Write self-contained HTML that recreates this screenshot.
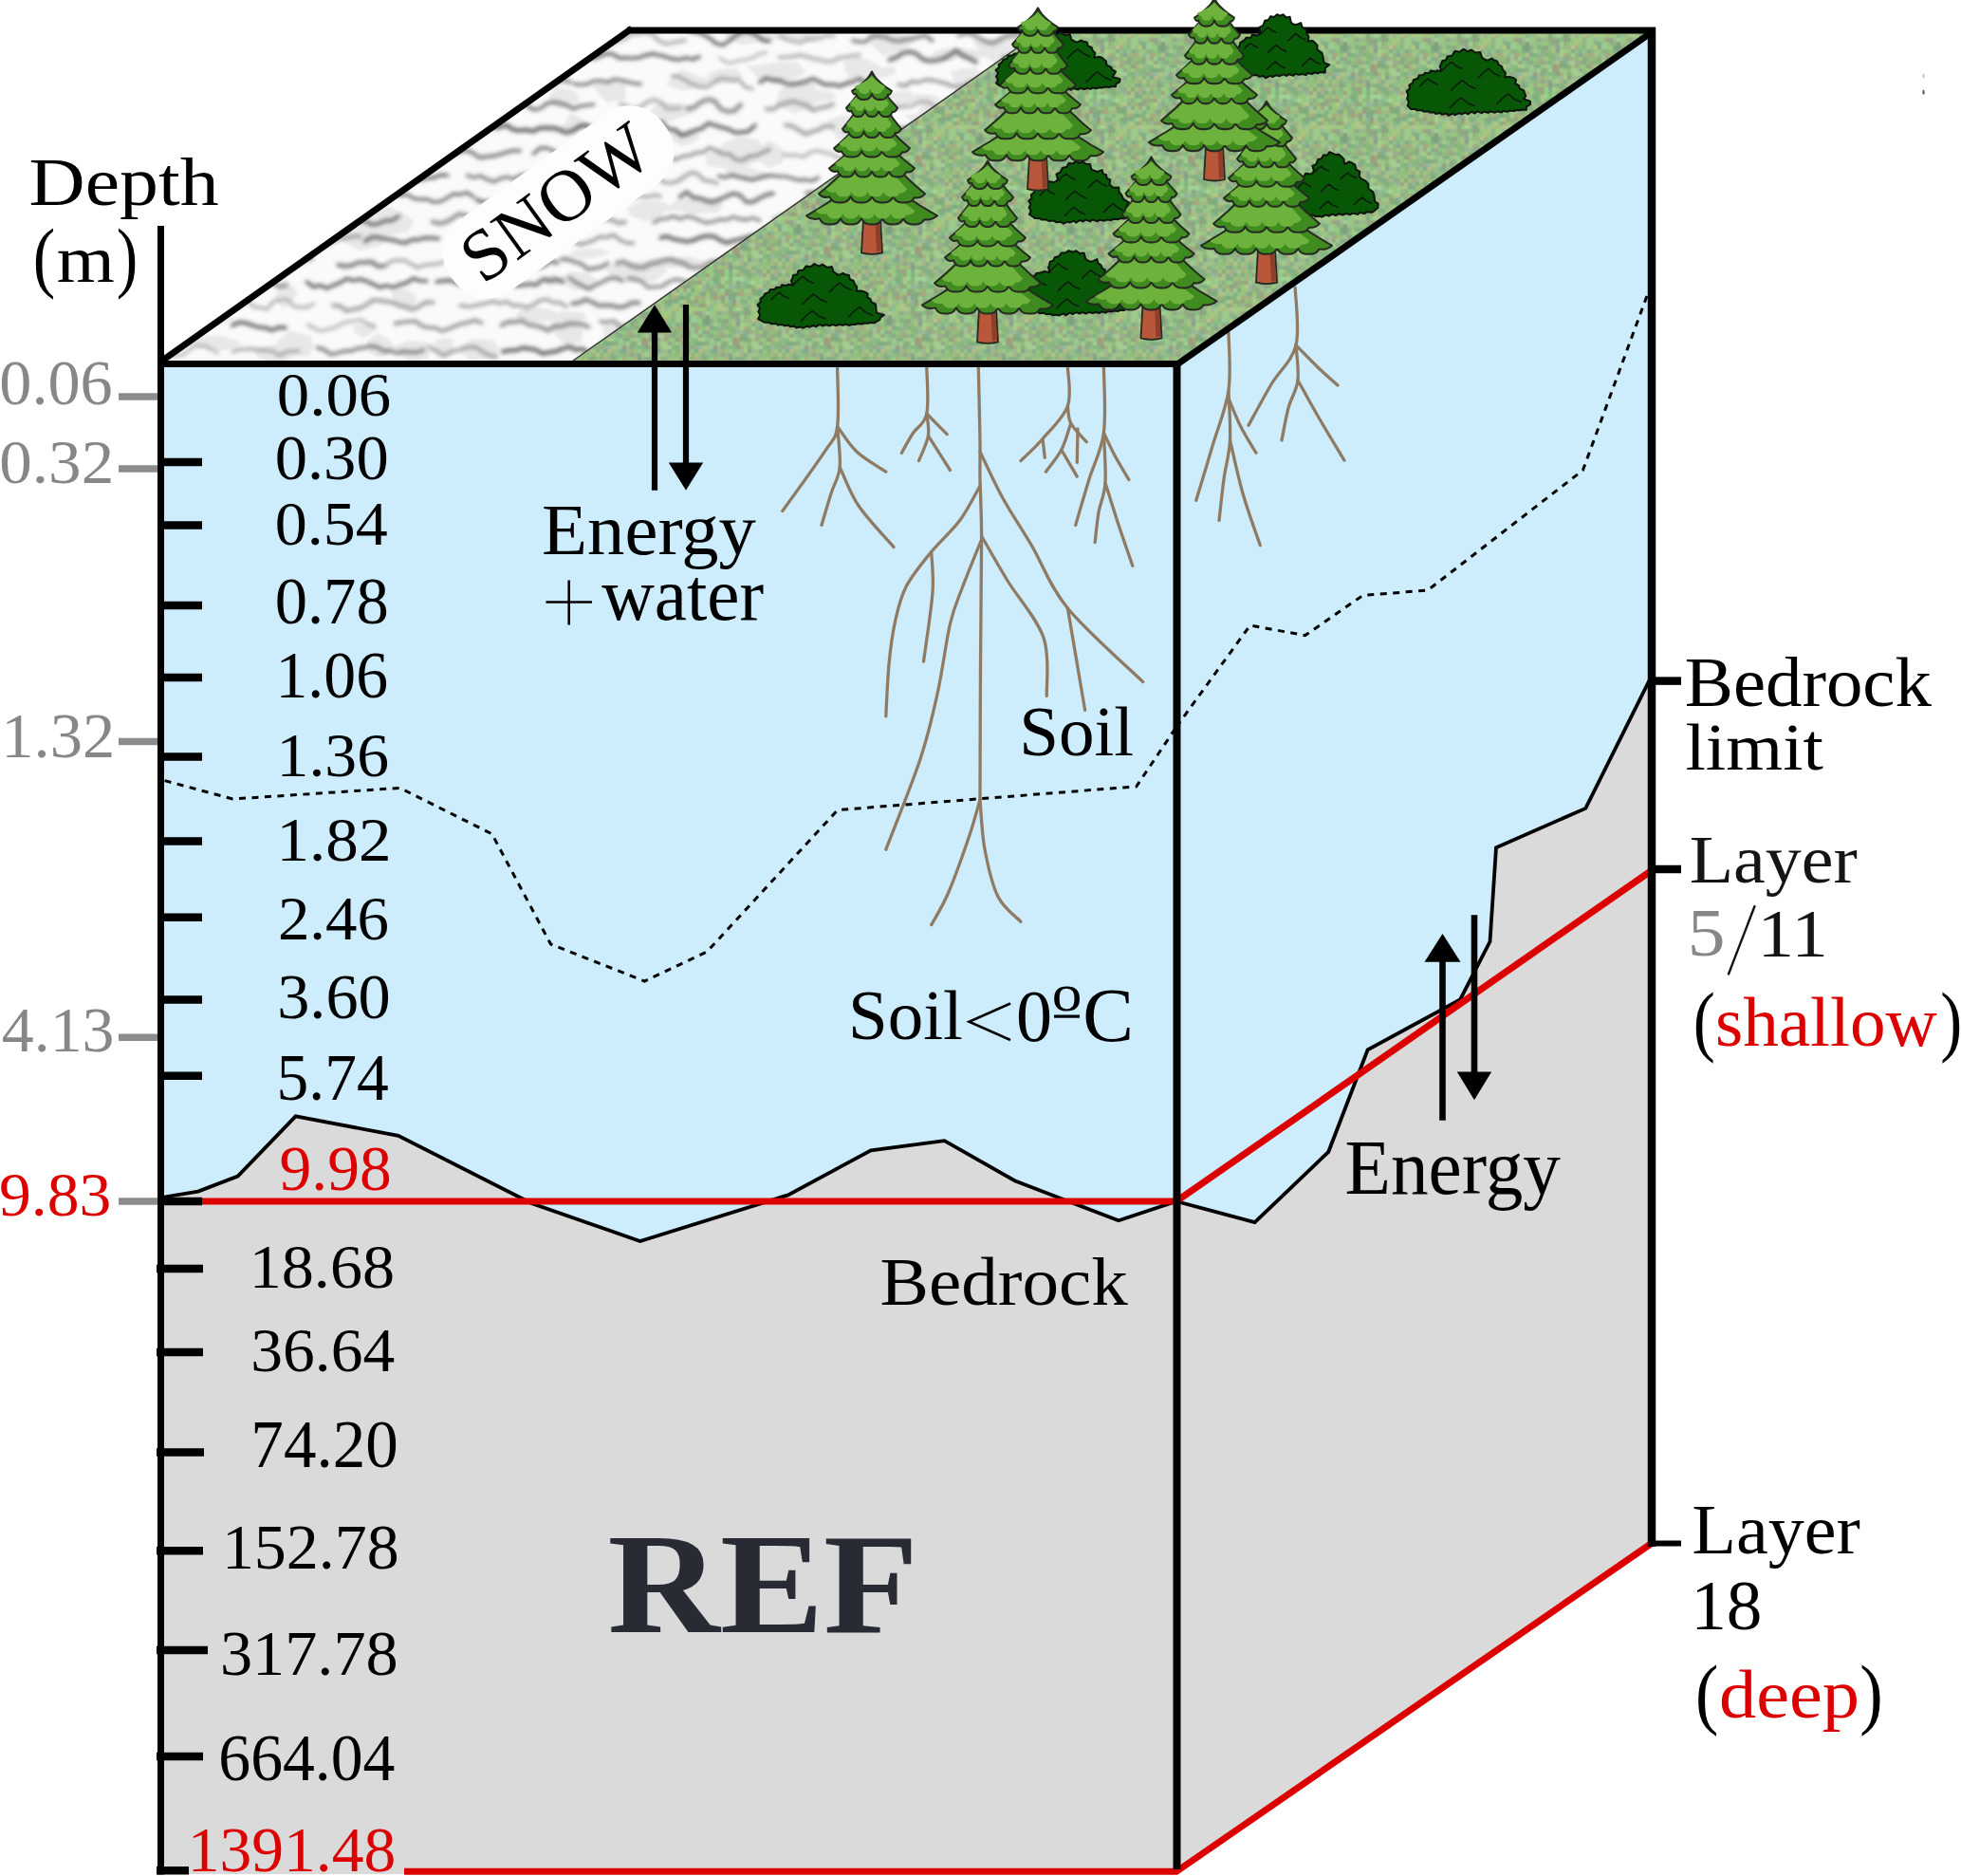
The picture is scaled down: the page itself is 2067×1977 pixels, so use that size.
<!DOCTYPE html>
<html><head><meta charset="utf-8"><style>html,body{margin:0;padding:0;background:#fff;overflow:hidden}svg{display:block}</style></head>
<body><svg width="2067" height="1977" viewBox="0 0 2067 1977" font-family="Liberation Serif">
<defs>
<pattern id="grass" patternUnits="userSpaceOnUse" width="96" height="96"><rect x="0" y="0" width="4" height="4" fill="rgb(125, 180, 124)"/><rect x="0" y="4" width="4" height="4" fill="rgb(131, 184, 118)"/><rect x="0" y="8" width="4" height="4" fill="rgb(141, 182, 127)"/><rect x="0" y="12" width="4" height="4" fill="rgb(155, 179, 149)"/><rect x="0" y="16" width="4" height="4" fill="rgb(141, 174, 120)"/><rect x="0" y="20" width="4" height="4" fill="rgb(131, 171, 131)"/><rect x="0" y="24" width="4" height="4" fill="rgb(131, 163, 139)"/><rect x="0" y="28" width="4" height="4" fill="rgb(146, 180, 151)"/><rect x="0" y="32" width="4" height="4" fill="rgb(140, 184, 131)"/><rect x="0" y="36" width="4" height="4" fill="rgb(124, 170, 124)"/><rect x="0" y="40" width="4" height="4" fill="rgb(154, 167, 131)"/><rect x="0" y="44" width="4" height="4" fill="rgb(135, 182, 134)"/><rect x="0" y="48" width="4" height="4" fill="rgb(159, 193, 125)"/><rect x="0" y="52" width="4" height="4" fill="rgb(137, 189, 132)"/><rect x="0" y="56" width="4" height="4" fill="rgb(135, 177, 125)"/><rect x="0" y="60" width="4" height="4" fill="rgb(144, 186, 122)"/><rect x="0" y="64" width="4" height="4" fill="rgb(125, 183, 136)"/><rect x="0" y="68" width="4" height="4" fill="rgb(146, 204, 136)"/><rect x="0" y="72" width="4" height="4" fill="rgb(166, 213, 152)"/><rect x="0" y="76" width="4" height="4" fill="rgb(130, 181, 132)"/><rect x="0" y="80" width="4" height="4" fill="rgb(157, 199, 147)"/><rect x="0" y="84" width="4" height="4" fill="rgb(130, 168, 130)"/><rect x="0" y="88" width="4" height="4" fill="rgb(127, 159, 132)"/><rect x="0" y="92" width="4" height="4" fill="rgb(126, 171, 138)"/><rect x="4" y="0" width="4" height="4" fill="rgb(150, 203, 130)"/><rect x="4" y="4" width="4" height="4" fill="rgb(162, 210, 150)"/><rect x="4" y="8" width="4" height="4" fill="rgb(170, 196, 145)"/><rect x="4" y="12" width="4" height="4" fill="rgb(150, 181, 155)"/><rect x="4" y="16" width="4" height="4" fill="rgb(143, 194, 136)"/><rect x="4" y="20" width="4" height="4" fill="rgb(128, 166, 122)"/><rect x="4" y="24" width="4" height="4" fill="rgb(133, 177, 124)"/><rect x="4" y="28" width="4" height="4" fill="rgb(123, 159, 133)"/><rect x="4" y="32" width="4" height="4" fill="rgb(153, 160, 127)"/><rect x="4" y="36" width="4" height="4" fill="rgb(148, 207, 137)"/><rect x="4" y="40" width="4" height="4" fill="rgb(158, 156, 134)"/><rect x="4" y="44" width="4" height="4" fill="rgb(149, 166, 130)"/><rect x="4" y="48" width="4" height="4" fill="rgb(154, 189, 145)"/><rect x="4" y="52" width="4" height="4" fill="rgb(180, 192, 137)"/><rect x="4" y="56" width="4" height="4" fill="rgb(134, 187, 122)"/><rect x="4" y="60" width="4" height="4" fill="rgb(138, 174, 120)"/><rect x="4" y="64" width="4" height="4" fill="rgb(148, 197, 137)"/><rect x="4" y="68" width="4" height="4" fill="rgb(148, 154, 124)"/><rect x="4" y="72" width="4" height="4" fill="rgb(160, 156, 126)"/><rect x="4" y="76" width="4" height="4" fill="rgb(132, 183, 126)"/><rect x="4" y="80" width="4" height="4" fill="rgb(143, 187, 132)"/><rect x="4" y="84" width="4" height="4" fill="rgb(177, 193, 135)"/><rect x="4" y="88" width="4" height="4" fill="rgb(138, 181, 132)"/><rect x="4" y="92" width="4" height="4" fill="rgb(160, 214, 138)"/><rect x="8" y="0" width="4" height="4" fill="rgb(146, 170, 134)"/><rect x="8" y="4" width="4" height="4" fill="rgb(155, 214, 147)"/><rect x="8" y="8" width="4" height="4" fill="rgb(118, 167, 134)"/><rect x="8" y="12" width="4" height="4" fill="rgb(126, 179, 130)"/><rect x="8" y="16" width="4" height="4" fill="rgb(151, 191, 132)"/><rect x="8" y="20" width="4" height="4" fill="rgb(154, 159, 130)"/><rect x="8" y="24" width="4" height="4" fill="rgb(162, 204, 154)"/><rect x="8" y="28" width="4" height="4" fill="rgb(179, 191, 131)"/><rect x="8" y="32" width="4" height="4" fill="rgb(167, 196, 124)"/><rect x="8" y="36" width="4" height="4" fill="rgb(166, 212, 149)"/><rect x="8" y="40" width="4" height="4" fill="rgb(123, 175, 126)"/><rect x="8" y="44" width="4" height="4" fill="rgb(145, 165, 140)"/><rect x="8" y="48" width="4" height="4" fill="rgb(145, 159, 145)"/><rect x="8" y="52" width="4" height="4" fill="rgb(127, 161, 121)"/><rect x="8" y="56" width="4" height="4" fill="rgb(148, 192, 147)"/><rect x="8" y="60" width="4" height="4" fill="rgb(152, 179, 154)"/><rect x="8" y="64" width="4" height="4" fill="rgb(180, 193, 136)"/><rect x="8" y="68" width="4" height="4" fill="rgb(164, 165, 124)"/><rect x="8" y="72" width="4" height="4" fill="rgb(162, 156, 133)"/><rect x="8" y="76" width="4" height="4" fill="rgb(127, 163, 122)"/><rect x="8" y="80" width="4" height="4" fill="rgb(144, 197, 142)"/><rect x="8" y="84" width="4" height="4" fill="rgb(159, 211, 144)"/><rect x="8" y="88" width="4" height="4" fill="rgb(130, 167, 136)"/><rect x="8" y="92" width="4" height="4" fill="rgb(168, 195, 128)"/><rect x="12" y="0" width="4" height="4" fill="rgb(165, 192, 119)"/><rect x="12" y="4" width="4" height="4" fill="rgb(166, 212, 154)"/><rect x="12" y="8" width="4" height="4" fill="rgb(158, 181, 146)"/><rect x="12" y="12" width="4" height="4" fill="rgb(151, 181, 139)"/><rect x="12" y="16" width="4" height="4" fill="rgb(160, 169, 125)"/><rect x="12" y="20" width="4" height="4" fill="rgb(175, 168, 121)"/><rect x="12" y="24" width="4" height="4" fill="rgb(137, 184, 138)"/><rect x="12" y="28" width="4" height="4" fill="rgb(129, 180, 123)"/><rect x="12" y="32" width="4" height="4" fill="rgb(153, 191, 134)"/><rect x="12" y="36" width="4" height="4" fill="rgb(168, 193, 145)"/><rect x="12" y="40" width="4" height="4" fill="rgb(137, 184, 129)"/><rect x="12" y="44" width="4" height="4" fill="rgb(163, 212, 154)"/><rect x="12" y="48" width="4" height="4" fill="rgb(150, 197, 132)"/><rect x="12" y="52" width="4" height="4" fill="rgb(171, 206, 144)"/><rect x="12" y="56" width="4" height="4" fill="rgb(172, 204, 134)"/><rect x="12" y="60" width="4" height="4" fill="rgb(156, 187, 144)"/><rect x="12" y="64" width="4" height="4" fill="rgb(123, 172, 120)"/><rect x="12" y="68" width="4" height="4" fill="rgb(139, 162, 134)"/><rect x="12" y="72" width="4" height="4" fill="rgb(166, 202, 146)"/><rect x="12" y="76" width="4" height="4" fill="rgb(174, 172, 123)"/><rect x="12" y="80" width="4" height="4" fill="rgb(157, 182, 149)"/><rect x="12" y="84" width="4" height="4" fill="rgb(173, 181, 132)"/><rect x="12" y="88" width="4" height="4" fill="rgb(134, 174, 134)"/><rect x="12" y="92" width="4" height="4" fill="rgb(123, 179, 123)"/><rect x="16" y="0" width="4" height="4" fill="rgb(135, 182, 123)"/><rect x="16" y="4" width="4" height="4" fill="rgb(152, 193, 151)"/><rect x="16" y="8" width="4" height="4" fill="rgb(137, 184, 132)"/><rect x="16" y="12" width="4" height="4" fill="rgb(130, 181, 125)"/><rect x="16" y="16" width="4" height="4" fill="rgb(149, 202, 130)"/><rect x="16" y="20" width="4" height="4" fill="rgb(150, 189, 146)"/><rect x="16" y="24" width="4" height="4" fill="rgb(151, 196, 135)"/><rect x="16" y="28" width="4" height="4" fill="rgb(136, 174, 122)"/><rect x="16" y="32" width="4" height="4" fill="rgb(144, 185, 142)"/><rect x="16" y="36" width="4" height="4" fill="rgb(118, 167, 120)"/><rect x="16" y="40" width="4" height="4" fill="rgb(155, 154, 126)"/><rect x="16" y="44" width="4" height="4" fill="rgb(142, 173, 127)"/><rect x="16" y="48" width="4" height="4" fill="rgb(148, 189, 129)"/><rect x="16" y="52" width="4" height="4" fill="rgb(160, 201, 129)"/><rect x="16" y="56" width="4" height="4" fill="rgb(168, 166, 125)"/><rect x="16" y="60" width="4" height="4" fill="rgb(139, 168, 146)"/><rect x="16" y="64" width="4" height="4" fill="rgb(139, 173, 146)"/><rect x="16" y="68" width="4" height="4" fill="rgb(121, 167, 129)"/><rect x="16" y="72" width="4" height="4" fill="rgb(152, 195, 126)"/><rect x="16" y="76" width="4" height="4" fill="rgb(160, 200, 142)"/><rect x="16" y="80" width="4" height="4" fill="rgb(175, 205, 134)"/><rect x="16" y="84" width="4" height="4" fill="rgb(129, 174, 130)"/><rect x="16" y="88" width="4" height="4" fill="rgb(144, 187, 132)"/><rect x="16" y="92" width="4" height="4" fill="rgb(127, 172, 135)"/><rect x="20" y="0" width="4" height="4" fill="rgb(122, 172, 123)"/><rect x="20" y="4" width="4" height="4" fill="rgb(136, 186, 122)"/><rect x="20" y="8" width="4" height="4" fill="rgb(146, 206, 142)"/><rect x="20" y="12" width="4" height="4" fill="rgb(125, 166, 127)"/><rect x="20" y="16" width="4" height="4" fill="rgb(158, 199, 131)"/><rect x="20" y="20" width="4" height="4" fill="rgb(166, 188, 126)"/><rect x="20" y="24" width="4" height="4" fill="rgb(131, 178, 130)"/><rect x="20" y="28" width="4" height="4" fill="rgb(153, 200, 137)"/><rect x="20" y="32" width="4" height="4" fill="rgb(160, 175, 132)"/><rect x="20" y="36" width="4" height="4" fill="rgb(143, 181, 133)"/><rect x="20" y="40" width="4" height="4" fill="rgb(122, 166, 134)"/><rect x="20" y="44" width="4" height="4" fill="rgb(146, 202, 128)"/><rect x="20" y="48" width="4" height="4" fill="rgb(172, 166, 132)"/><rect x="20" y="52" width="4" height="4" fill="rgb(153, 203, 133)"/><rect x="20" y="56" width="4" height="4" fill="rgb(144, 177, 129)"/><rect x="20" y="60" width="4" height="4" fill="rgb(136, 172, 132)"/><rect x="20" y="64" width="4" height="4" fill="rgb(159, 199, 154)"/><rect x="20" y="68" width="4" height="4" fill="rgb(129, 175, 122)"/><rect x="20" y="72" width="4" height="4" fill="rgb(151, 181, 132)"/><rect x="20" y="76" width="4" height="4" fill="rgb(128, 174, 121)"/><rect x="20" y="80" width="4" height="4" fill="rgb(127, 162, 130)"/><rect x="20" y="84" width="4" height="4" fill="rgb(169, 191, 138)"/><rect x="20" y="88" width="4" height="4" fill="rgb(176, 191, 145)"/><rect x="20" y="92" width="4" height="4" fill="rgb(144, 175, 133)"/><rect x="24" y="0" width="4" height="4" fill="rgb(143, 181, 119)"/><rect x="24" y="4" width="4" height="4" fill="rgb(159, 194, 125)"/><rect x="24" y="8" width="4" height="4" fill="rgb(169, 213, 150)"/><rect x="24" y="12" width="4" height="4" fill="rgb(143, 182, 118)"/><rect x="24" y="16" width="4" height="4" fill="rgb(154, 154, 122)"/><rect x="24" y="20" width="4" height="4" fill="rgb(129, 177, 127)"/><rect x="24" y="24" width="4" height="4" fill="rgb(159, 195, 141)"/><rect x="24" y="28" width="4" height="4" fill="rgb(155, 194, 133)"/><rect x="24" y="32" width="4" height="4" fill="rgb(168, 197, 132)"/><rect x="24" y="36" width="4" height="4" fill="rgb(182, 194, 137)"/><rect x="24" y="40" width="4" height="4" fill="rgb(154, 203, 118)"/><rect x="24" y="44" width="4" height="4" fill="rgb(166, 190, 134)"/><rect x="24" y="48" width="4" height="4" fill="rgb(176, 203, 137)"/><rect x="24" y="52" width="4" height="4" fill="rgb(132, 161, 134)"/><rect x="24" y="56" width="4" height="4" fill="rgb(171, 206, 149)"/><rect x="24" y="60" width="4" height="4" fill="rgb(176, 173, 123)"/><rect x="24" y="64" width="4" height="4" fill="rgb(166, 205, 153)"/><rect x="24" y="68" width="4" height="4" fill="rgb(180, 191, 136)"/><rect x="24" y="72" width="4" height="4" fill="rgb(159, 208, 138)"/><rect x="24" y="76" width="4" height="4" fill="rgb(156, 201, 129)"/><rect x="24" y="80" width="4" height="4" fill="rgb(152, 180, 152)"/><rect x="24" y="84" width="4" height="4" fill="rgb(154, 204, 138)"/><rect x="24" y="88" width="4" height="4" fill="rgb(134, 173, 126)"/><rect x="24" y="92" width="4" height="4" fill="rgb(163, 190, 130)"/><rect x="28" y="0" width="4" height="4" fill="rgb(144, 188, 155)"/><rect x="28" y="4" width="4" height="4" fill="rgb(153, 196, 121)"/><rect x="28" y="8" width="4" height="4" fill="rgb(153, 198, 133)"/><rect x="28" y="12" width="4" height="4" fill="rgb(165, 204, 128)"/><rect x="28" y="16" width="4" height="4" fill="rgb(141, 172, 130)"/><rect x="28" y="20" width="4" height="4" fill="rgb(128, 165, 120)"/><rect x="28" y="24" width="4" height="4" fill="rgb(157, 208, 130)"/><rect x="28" y="28" width="4" height="4" fill="rgb(125, 174, 119)"/><rect x="28" y="32" width="4" height="4" fill="rgb(139, 186, 140)"/><rect x="28" y="36" width="4" height="4" fill="rgb(152, 186, 151)"/><rect x="28" y="40" width="4" height="4" fill="rgb(160, 200, 125)"/><rect x="28" y="44" width="4" height="4" fill="rgb(167, 200, 121)"/><rect x="28" y="48" width="4" height="4" fill="rgb(165, 167, 126)"/><rect x="28" y="52" width="4" height="4" fill="rgb(150, 188, 139)"/><rect x="28" y="56" width="4" height="4" fill="rgb(135, 181, 127)"/><rect x="28" y="60" width="4" height="4" fill="rgb(141, 188, 127)"/><rect x="28" y="64" width="4" height="4" fill="rgb(170, 167, 130)"/><rect x="28" y="68" width="4" height="4" fill="rgb(141, 167, 136)"/><rect x="28" y="72" width="4" height="4" fill="rgb(157, 206, 139)"/><rect x="28" y="76" width="4" height="4" fill="rgb(171, 204, 150)"/><rect x="28" y="80" width="4" height="4" fill="rgb(162, 189, 133)"/><rect x="28" y="84" width="4" height="4" fill="rgb(163, 192, 134)"/><rect x="28" y="88" width="4" height="4" fill="rgb(141, 183, 133)"/><rect x="28" y="92" width="4" height="4" fill="rgb(142, 171, 144)"/><rect x="32" y="0" width="4" height="4" fill="rgb(151, 177, 146)"/><rect x="32" y="4" width="4" height="4" fill="rgb(157, 209, 141)"/><rect x="32" y="8" width="4" height="4" fill="rgb(146, 206, 142)"/><rect x="32" y="12" width="4" height="4" fill="rgb(182, 198, 134)"/><rect x="32" y="16" width="4" height="4" fill="rgb(134, 163, 146)"/><rect x="32" y="20" width="4" height="4" fill="rgb(119, 173, 120)"/><rect x="32" y="24" width="4" height="4" fill="rgb(136, 181, 129)"/><rect x="32" y="28" width="4" height="4" fill="rgb(131, 168, 134)"/><rect x="32" y="32" width="4" height="4" fill="rgb(124, 175, 131)"/><rect x="32" y="36" width="4" height="4" fill="rgb(158, 201, 140)"/><rect x="32" y="40" width="4" height="4" fill="rgb(168, 194, 130)"/><rect x="32" y="44" width="4" height="4" fill="rgb(159, 188, 118)"/><rect x="32" y="48" width="4" height="4" fill="rgb(144, 195, 133)"/><rect x="32" y="52" width="4" height="4" fill="rgb(128, 183, 139)"/><rect x="32" y="56" width="4" height="4" fill="rgb(137, 159, 143)"/><rect x="32" y="60" width="4" height="4" fill="rgb(164, 199, 138)"/><rect x="32" y="64" width="4" height="4" fill="rgb(145, 172, 132)"/><rect x="32" y="68" width="4" height="4" fill="rgb(159, 201, 129)"/><rect x="32" y="72" width="4" height="4" fill="rgb(145, 160, 140)"/><rect x="32" y="76" width="4" height="4" fill="rgb(168, 209, 150)"/><rect x="32" y="80" width="4" height="4" fill="rgb(130, 168, 146)"/><rect x="32" y="84" width="4" height="4" fill="rgb(134, 188, 123)"/><rect x="32" y="88" width="4" height="4" fill="rgb(158, 195, 132)"/><rect x="32" y="92" width="4" height="4" fill="rgb(138, 168, 133)"/><rect x="36" y="0" width="4" height="4" fill="rgb(163, 157, 125)"/><rect x="36" y="4" width="4" height="4" fill="rgb(181, 192, 135)"/><rect x="36" y="8" width="4" height="4" fill="rgb(143, 183, 142)"/><rect x="36" y="12" width="4" height="4" fill="rgb(152, 165, 119)"/><rect x="36" y="16" width="4" height="4" fill="rgb(156, 203, 150)"/><rect x="36" y="20" width="4" height="4" fill="rgb(178, 194, 133)"/><rect x="36" y="24" width="4" height="4" fill="rgb(170, 171, 125)"/><rect x="36" y="28" width="4" height="4" fill="rgb(132, 173, 119)"/><rect x="36" y="32" width="4" height="4" fill="rgb(164, 199, 128)"/><rect x="36" y="36" width="4" height="4" fill="rgb(173, 194, 131)"/><rect x="36" y="40" width="4" height="4" fill="rgb(136, 175, 128)"/><rect x="36" y="44" width="4" height="4" fill="rgb(145, 183, 154)"/><rect x="36" y="48" width="4" height="4" fill="rgb(130, 181, 125)"/><rect x="36" y="52" width="4" height="4" fill="rgb(159, 200, 137)"/><rect x="36" y="56" width="4" height="4" fill="rgb(149, 187, 135)"/><rect x="36" y="60" width="4" height="4" fill="rgb(136, 168, 136)"/><rect x="36" y="64" width="4" height="4" fill="rgb(142, 160, 142)"/><rect x="36" y="68" width="4" height="4" fill="rgb(158, 196, 127)"/><rect x="36" y="72" width="4" height="4" fill="rgb(158, 190, 128)"/><rect x="36" y="76" width="4" height="4" fill="rgb(129, 178, 124)"/><rect x="36" y="80" width="4" height="4" fill="rgb(162, 196, 127)"/><rect x="36" y="84" width="4" height="4" fill="rgb(146, 194, 133)"/><rect x="36" y="88" width="4" height="4" fill="rgb(143, 187, 129)"/><rect x="36" y="92" width="4" height="4" fill="rgb(165, 203, 122)"/><rect x="40" y="0" width="4" height="4" fill="rgb(173, 191, 140)"/><rect x="40" y="4" width="4" height="4" fill="rgb(159, 205, 148)"/><rect x="40" y="8" width="4" height="4" fill="rgb(135, 179, 125)"/><rect x="40" y="12" width="4" height="4" fill="rgb(141, 193, 130)"/><rect x="40" y="16" width="4" height="4" fill="rgb(143, 161, 131)"/><rect x="40" y="20" width="4" height="4" fill="rgb(178, 196, 144)"/><rect x="40" y="24" width="4" height="4" fill="rgb(130, 181, 119)"/><rect x="40" y="28" width="4" height="4" fill="rgb(133, 172, 145)"/><rect x="40" y="32" width="4" height="4" fill="rgb(169, 203, 145)"/><rect x="40" y="36" width="4" height="4" fill="rgb(173, 179, 127)"/><rect x="40" y="40" width="4" height="4" fill="rgb(158, 207, 147)"/><rect x="40" y="44" width="4" height="4" fill="rgb(160, 199, 126)"/><rect x="40" y="48" width="4" height="4" fill="rgb(163, 204, 152)"/><rect x="40" y="52" width="4" height="4" fill="rgb(135, 166, 137)"/><rect x="40" y="56" width="4" height="4" fill="rgb(169, 171, 130)"/><rect x="40" y="60" width="4" height="4" fill="rgb(140, 181, 124)"/><rect x="40" y="64" width="4" height="4" fill="rgb(151, 188, 128)"/><rect x="40" y="68" width="4" height="4" fill="rgb(130, 160, 121)"/><rect x="40" y="72" width="4" height="4" fill="rgb(159, 201, 140)"/><rect x="40" y="76" width="4" height="4" fill="rgb(122, 177, 130)"/><rect x="40" y="80" width="4" height="4" fill="rgb(129, 179, 123)"/><rect x="40" y="84" width="4" height="4" fill="rgb(139, 189, 122)"/><rect x="40" y="88" width="4" height="4" fill="rgb(176, 191, 134)"/><rect x="40" y="92" width="4" height="4" fill="rgb(127, 165, 119)"/><rect x="44" y="0" width="4" height="4" fill="rgb(131, 172, 124)"/><rect x="44" y="4" width="4" height="4" fill="rgb(138, 160, 136)"/><rect x="44" y="8" width="4" height="4" fill="rgb(154, 207, 137)"/><rect x="44" y="12" width="4" height="4" fill="rgb(169, 167, 126)"/><rect x="44" y="16" width="4" height="4" fill="rgb(159, 209, 128)"/><rect x="44" y="20" width="4" height="4" fill="rgb(145, 189, 146)"/><rect x="44" y="24" width="4" height="4" fill="rgb(118, 164, 130)"/><rect x="44" y="28" width="4" height="4" fill="rgb(163, 211, 147)"/><rect x="44" y="32" width="4" height="4" fill="rgb(125, 172, 119)"/><rect x="44" y="36" width="4" height="4" fill="rgb(163, 201, 131)"/><rect x="44" y="40" width="4" height="4" fill="rgb(155, 200, 138)"/><rect x="44" y="44" width="4" height="4" fill="rgb(167, 204, 138)"/><rect x="44" y="48" width="4" height="4" fill="rgb(147, 190, 145)"/><rect x="44" y="52" width="4" height="4" fill="rgb(140, 184, 131)"/><rect x="44" y="56" width="4" height="4" fill="rgb(164, 165, 121)"/><rect x="44" y="60" width="4" height="4" fill="rgb(139, 193, 127)"/><rect x="44" y="64" width="4" height="4" fill="rgb(159, 168, 123)"/><rect x="44" y="68" width="4" height="4" fill="rgb(171, 174, 125)"/><rect x="44" y="72" width="4" height="4" fill="rgb(140, 183, 128)"/><rect x="44" y="76" width="4" height="4" fill="rgb(157, 183, 151)"/><rect x="44" y="80" width="4" height="4" fill="rgb(161, 180, 130)"/><rect x="44" y="84" width="4" height="4" fill="rgb(156, 196, 131)"/><rect x="44" y="88" width="4" height="4" fill="rgb(123, 171, 124)"/><rect x="44" y="92" width="4" height="4" fill="rgb(173, 197, 132)"/><rect x="48" y="0" width="4" height="4" fill="rgb(158, 182, 154)"/><rect x="48" y="4" width="4" height="4" fill="rgb(124, 172, 130)"/><rect x="48" y="8" width="4" height="4" fill="rgb(161, 199, 139)"/><rect x="48" y="12" width="4" height="4" fill="rgb(126, 162, 130)"/><rect x="48" y="16" width="4" height="4" fill="rgb(162, 161, 131)"/><rect x="48" y="20" width="4" height="4" fill="rgb(159, 201, 130)"/><rect x="48" y="24" width="4" height="4" fill="rgb(127, 173, 134)"/><rect x="48" y="28" width="4" height="4" fill="rgb(173, 191, 131)"/><rect x="48" y="32" width="4" height="4" fill="rgb(163, 166, 125)"/><rect x="48" y="36" width="4" height="4" fill="rgb(182, 196, 146)"/><rect x="48" y="40" width="4" height="4" fill="rgb(145, 179, 146)"/><rect x="48" y="44" width="4" height="4" fill="rgb(134, 179, 125)"/><rect x="48" y="48" width="4" height="4" fill="rgb(184, 207, 132)"/><rect x="48" y="52" width="4" height="4" fill="rgb(148, 196, 136)"/><rect x="48" y="56" width="4" height="4" fill="rgb(171, 200, 139)"/><rect x="48" y="60" width="4" height="4" fill="rgb(147, 185, 125)"/><rect x="48" y="64" width="4" height="4" fill="rgb(131, 179, 121)"/><rect x="48" y="68" width="4" height="4" fill="rgb(177, 196, 138)"/><rect x="48" y="72" width="4" height="4" fill="rgb(139, 181, 122)"/><rect x="48" y="76" width="4" height="4" fill="rgb(129, 182, 127)"/><rect x="48" y="80" width="4" height="4" fill="rgb(168, 203, 124)"/><rect x="48" y="84" width="4" height="4" fill="rgb(156, 168, 125)"/><rect x="48" y="88" width="4" height="4" fill="rgb(132, 169, 129)"/><rect x="48" y="92" width="4" height="4" fill="rgb(172, 170, 128)"/><rect x="52" y="0" width="4" height="4" fill="rgb(126, 171, 123)"/><rect x="52" y="4" width="4" height="4" fill="rgb(155, 204, 119)"/><rect x="52" y="8" width="4" height="4" fill="rgb(127, 173, 134)"/><rect x="52" y="12" width="4" height="4" fill="rgb(151, 160, 130)"/><rect x="52" y="16" width="4" height="4" fill="rgb(166, 206, 150)"/><rect x="52" y="20" width="4" height="4" fill="rgb(125, 179, 133)"/><rect x="52" y="24" width="4" height="4" fill="rgb(142, 180, 122)"/><rect x="52" y="28" width="4" height="4" fill="rgb(149, 161, 134)"/><rect x="52" y="32" width="4" height="4" fill="rgb(161, 198, 118)"/><rect x="52" y="36" width="4" height="4" fill="rgb(156, 205, 142)"/><rect x="52" y="40" width="4" height="4" fill="rgb(165, 201, 134)"/><rect x="52" y="44" width="4" height="4" fill="rgb(122, 172, 138)"/><rect x="52" y="48" width="4" height="4" fill="rgb(131, 159, 131)"/><rect x="52" y="52" width="4" height="4" fill="rgb(155, 203, 129)"/><rect x="52" y="56" width="4" height="4" fill="rgb(146, 188, 138)"/><rect x="52" y="60" width="4" height="4" fill="rgb(157, 156, 124)"/><rect x="52" y="64" width="4" height="4" fill="rgb(136, 173, 127)"/><rect x="52" y="68" width="4" height="4" fill="rgb(151, 198, 140)"/><rect x="52" y="72" width="4" height="4" fill="rgb(130, 177, 125)"/><rect x="52" y="76" width="4" height="4" fill="rgb(150, 177, 143)"/><rect x="52" y="80" width="4" height="4" fill="rgb(127, 173, 134)"/><rect x="52" y="84" width="4" height="4" fill="rgb(170, 205, 143)"/><rect x="52" y="88" width="4" height="4" fill="rgb(145, 195, 126)"/><rect x="52" y="92" width="4" height="4" fill="rgb(147, 184, 147)"/><rect x="56" y="0" width="4" height="4" fill="rgb(147, 194, 132)"/><rect x="56" y="4" width="4" height="4" fill="rgb(173, 171, 136)"/><rect x="56" y="8" width="4" height="4" fill="rgb(164, 165, 123)"/><rect x="56" y="12" width="4" height="4" fill="rgb(144, 183, 134)"/><rect x="56" y="16" width="4" height="4" fill="rgb(117, 174, 118)"/><rect x="56" y="20" width="4" height="4" fill="rgb(155, 191, 144)"/><rect x="56" y="24" width="4" height="4" fill="rgb(169, 203, 145)"/><rect x="56" y="28" width="4" height="4" fill="rgb(136, 180, 118)"/><rect x="56" y="32" width="4" height="4" fill="rgb(138, 181, 118)"/><rect x="56" y="36" width="4" height="4" fill="rgb(165, 204, 126)"/><rect x="56" y="40" width="4" height="4" fill="rgb(158, 190, 134)"/><rect x="56" y="44" width="4" height="4" fill="rgb(149, 202, 133)"/><rect x="56" y="48" width="4" height="4" fill="rgb(161, 203, 148)"/><rect x="56" y="52" width="4" height="4" fill="rgb(142, 169, 137)"/><rect x="56" y="56" width="4" height="4" fill="rgb(157, 192, 158)"/><rect x="56" y="60" width="4" height="4" fill="rgb(155, 198, 151)"/><rect x="56" y="64" width="4" height="4" fill="rgb(162, 207, 144)"/><rect x="56" y="68" width="4" height="4" fill="rgb(144, 182, 146)"/><rect x="56" y="72" width="4" height="4" fill="rgb(144, 197, 129)"/><rect x="56" y="76" width="4" height="4" fill="rgb(153, 163, 122)"/><rect x="56" y="80" width="4" height="4" fill="rgb(155, 198, 139)"/><rect x="56" y="84" width="4" height="4" fill="rgb(161, 167, 121)"/><rect x="56" y="88" width="4" height="4" fill="rgb(139, 179, 119)"/><rect x="56" y="92" width="4" height="4" fill="rgb(167, 201, 145)"/><rect x="60" y="0" width="4" height="4" fill="rgb(136, 162, 131)"/><rect x="60" y="4" width="4" height="4" fill="rgb(146, 203, 141)"/><rect x="60" y="8" width="4" height="4" fill="rgb(132, 176, 123)"/><rect x="60" y="12" width="4" height="4" fill="rgb(162, 198, 131)"/><rect x="60" y="16" width="4" height="4" fill="rgb(152, 199, 126)"/><rect x="60" y="20" width="4" height="4" fill="rgb(153, 199, 128)"/><rect x="60" y="24" width="4" height="4" fill="rgb(164, 167, 127)"/><rect x="60" y="28" width="4" height="4" fill="rgb(148, 165, 118)"/><rect x="60" y="32" width="4" height="4" fill="rgb(158, 180, 153)"/><rect x="60" y="36" width="4" height="4" fill="rgb(169, 197, 133)"/><rect x="60" y="40" width="4" height="4" fill="rgb(157, 157, 131)"/><rect x="60" y="44" width="4" height="4" fill="rgb(160, 200, 135)"/><rect x="60" y="48" width="4" height="4" fill="rgb(144, 205, 141)"/><rect x="60" y="52" width="4" height="4" fill="rgb(143, 178, 132)"/><rect x="60" y="56" width="4" height="4" fill="rgb(159, 168, 126)"/><rect x="60" y="60" width="4" height="4" fill="rgb(153, 161, 124)"/><rect x="60" y="64" width="4" height="4" fill="rgb(162, 213, 143)"/><rect x="60" y="68" width="4" height="4" fill="rgb(130, 188, 120)"/><rect x="60" y="72" width="4" height="4" fill="rgb(126, 170, 121)"/><rect x="60" y="76" width="4" height="4" fill="rgb(154, 179, 155)"/><rect x="60" y="80" width="4" height="4" fill="rgb(116, 170, 124)"/><rect x="60" y="84" width="4" height="4" fill="rgb(160, 201, 134)"/><rect x="60" y="88" width="4" height="4" fill="rgb(172, 172, 134)"/><rect x="60" y="92" width="4" height="4" fill="rgb(161, 176, 130)"/><rect x="64" y="0" width="4" height="4" fill="rgb(139, 195, 135)"/><rect x="64" y="4" width="4" height="4" fill="rgb(174, 179, 128)"/><rect x="64" y="8" width="4" height="4" fill="rgb(155, 156, 128)"/><rect x="64" y="12" width="4" height="4" fill="rgb(175, 207, 137)"/><rect x="64" y="16" width="4" height="4" fill="rgb(161, 192, 122)"/><rect x="64" y="20" width="4" height="4" fill="rgb(140, 175, 141)"/><rect x="64" y="24" width="4" height="4" fill="rgb(167, 175, 126)"/><rect x="64" y="28" width="4" height="4" fill="rgb(155, 193, 121)"/><rect x="64" y="32" width="4" height="4" fill="rgb(142, 163, 134)"/><rect x="64" y="36" width="4" height="4" fill="rgb(161, 201, 126)"/><rect x="64" y="40" width="4" height="4" fill="rgb(133, 162, 138)"/><rect x="64" y="44" width="4" height="4" fill="rgb(142, 173, 131)"/><rect x="64" y="48" width="4" height="4" fill="rgb(156, 207, 133)"/><rect x="64" y="52" width="4" height="4" fill="rgb(144, 195, 125)"/><rect x="64" y="56" width="4" height="4" fill="rgb(168, 177, 120)"/><rect x="64" y="60" width="4" height="4" fill="rgb(162, 211, 151)"/><rect x="64" y="64" width="4" height="4" fill="rgb(137, 164, 133)"/><rect x="64" y="68" width="4" height="4" fill="rgb(181, 201, 139)"/><rect x="64" y="72" width="4" height="4" fill="rgb(119, 172, 125)"/><rect x="64" y="76" width="4" height="4" fill="rgb(147, 185, 155)"/><rect x="64" y="80" width="4" height="4" fill="rgb(182, 191, 144)"/><rect x="64" y="84" width="4" height="4" fill="rgb(140, 191, 125)"/><rect x="64" y="88" width="4" height="4" fill="rgb(157, 180, 143)"/><rect x="64" y="92" width="4" height="4" fill="rgb(158, 193, 124)"/><rect x="68" y="0" width="4" height="4" fill="rgb(146, 184, 139)"/><rect x="68" y="4" width="4" height="4" fill="rgb(141, 196, 141)"/><rect x="68" y="8" width="4" height="4" fill="rgb(155, 210, 136)"/><rect x="68" y="12" width="4" height="4" fill="rgb(156, 183, 147)"/><rect x="68" y="16" width="4" height="4" fill="rgb(158, 180, 153)"/><rect x="68" y="20" width="4" height="4" fill="rgb(117, 167, 126)"/><rect x="68" y="24" width="4" height="4" fill="rgb(154, 178, 142)"/><rect x="68" y="28" width="4" height="4" fill="rgb(141, 186, 128)"/><rect x="68" y="32" width="4" height="4" fill="rgb(156, 155, 125)"/><rect x="68" y="36" width="4" height="4" fill="rgb(164, 204, 125)"/><rect x="68" y="40" width="4" height="4" fill="rgb(156, 183, 147)"/><rect x="68" y="44" width="4" height="4" fill="rgb(162, 171, 135)"/><rect x="68" y="48" width="4" height="4" fill="rgb(123, 163, 129)"/><rect x="68" y="52" width="4" height="4" fill="rgb(129, 173, 127)"/><rect x="68" y="56" width="4" height="4" fill="rgb(139, 196, 136)"/><rect x="68" y="60" width="4" height="4" fill="rgb(138, 171, 138)"/><rect x="68" y="64" width="4" height="4" fill="rgb(147, 192, 142)"/><rect x="68" y="68" width="4" height="4" fill="rgb(163, 209, 145)"/><rect x="68" y="72" width="4" height="4" fill="rgb(125, 169, 133)"/><rect x="68" y="76" width="4" height="4" fill="rgb(181, 193, 142)"/><rect x="68" y="80" width="4" height="4" fill="rgb(169, 177, 121)"/><rect x="68" y="84" width="4" height="4" fill="rgb(138, 177, 133)"/><rect x="68" y="88" width="4" height="4" fill="rgb(121, 168, 129)"/><rect x="68" y="92" width="4" height="4" fill="rgb(137, 181, 120)"/><rect x="72" y="0" width="4" height="4" fill="rgb(152, 159, 123)"/><rect x="72" y="4" width="4" height="4" fill="rgb(179, 195, 137)"/><rect x="72" y="8" width="4" height="4" fill="rgb(147, 179, 151)"/><rect x="72" y="12" width="4" height="4" fill="rgb(145, 165, 146)"/><rect x="72" y="16" width="4" height="4" fill="rgb(142, 176, 120)"/><rect x="72" y="20" width="4" height="4" fill="rgb(165, 195, 122)"/><rect x="72" y="24" width="4" height="4" fill="rgb(183, 192, 146)"/><rect x="72" y="28" width="4" height="4" fill="rgb(172, 206, 138)"/><rect x="72" y="32" width="4" height="4" fill="rgb(173, 191, 136)"/><rect x="72" y="36" width="4" height="4" fill="rgb(135, 183, 132)"/><rect x="72" y="40" width="4" height="4" fill="rgb(179, 204, 144)"/><rect x="72" y="44" width="4" height="4" fill="rgb(118, 164, 129)"/><rect x="72" y="48" width="4" height="4" fill="rgb(116, 159, 119)"/><rect x="72" y="52" width="4" height="4" fill="rgb(126, 162, 134)"/><rect x="72" y="56" width="4" height="4" fill="rgb(183, 195, 132)"/><rect x="72" y="60" width="4" height="4" fill="rgb(143, 163, 140)"/><rect x="72" y="64" width="4" height="4" fill="rgb(139, 183, 132)"/><rect x="72" y="68" width="4" height="4" fill="rgb(141, 190, 138)"/><rect x="72" y="72" width="4" height="4" fill="rgb(134, 176, 124)"/><rect x="72" y="76" width="4" height="4" fill="rgb(161, 199, 133)"/><rect x="72" y="80" width="4" height="4" fill="rgb(152, 193, 150)"/><rect x="72" y="84" width="4" height="4" fill="rgb(146, 187, 140)"/><rect x="72" y="88" width="4" height="4" fill="rgb(138, 179, 127)"/><rect x="72" y="92" width="4" height="4" fill="rgb(164, 202, 140)"/><rect x="76" y="0" width="4" height="4" fill="rgb(156, 206, 127)"/><rect x="76" y="4" width="4" height="4" fill="rgb(151, 180, 142)"/><rect x="76" y="8" width="4" height="4" fill="rgb(150, 209, 127)"/><rect x="76" y="12" width="4" height="4" fill="rgb(147, 185, 127)"/><rect x="76" y="16" width="4" height="4" fill="rgb(131, 173, 135)"/><rect x="76" y="20" width="4" height="4" fill="rgb(133, 174, 130)"/><rect x="76" y="24" width="4" height="4" fill="rgb(128, 184, 121)"/><rect x="76" y="28" width="4" height="4" fill="rgb(160, 197, 123)"/><rect x="76" y="32" width="4" height="4" fill="rgb(143, 187, 142)"/><rect x="76" y="36" width="4" height="4" fill="rgb(143, 192, 158)"/><rect x="76" y="40" width="4" height="4" fill="rgb(147, 207, 138)"/><rect x="76" y="44" width="4" height="4" fill="rgb(170, 191, 143)"/><rect x="76" y="48" width="4" height="4" fill="rgb(152, 167, 131)"/><rect x="76" y="52" width="4" height="4" fill="rgb(138, 183, 140)"/><rect x="76" y="56" width="4" height="4" fill="rgb(134, 159, 143)"/><rect x="76" y="60" width="4" height="4" fill="rgb(144, 197, 128)"/><rect x="76" y="64" width="4" height="4" fill="rgb(133, 163, 145)"/><rect x="76" y="68" width="4" height="4" fill="rgb(152, 201, 140)"/><rect x="76" y="72" width="4" height="4" fill="rgb(160, 199, 149)"/><rect x="76" y="76" width="4" height="4" fill="rgb(159, 200, 147)"/><rect x="76" y="80" width="4" height="4" fill="rgb(131, 173, 126)"/><rect x="76" y="84" width="4" height="4" fill="rgb(145, 194, 127)"/><rect x="76" y="88" width="4" height="4" fill="rgb(146, 206, 135)"/><rect x="76" y="92" width="4" height="4" fill="rgb(157, 203, 119)"/><rect x="80" y="0" width="4" height="4" fill="rgb(132, 182, 138)"/><rect x="80" y="4" width="4" height="4" fill="rgb(121, 163, 121)"/><rect x="80" y="8" width="4" height="4" fill="rgb(126, 181, 138)"/><rect x="80" y="12" width="4" height="4" fill="rgb(156, 185, 152)"/><rect x="80" y="16" width="4" height="4" fill="rgb(160, 189, 128)"/><rect x="80" y="20" width="4" height="4" fill="rgb(148, 156, 127)"/><rect x="80" y="24" width="4" height="4" fill="rgb(161, 159, 130)"/><rect x="80" y="28" width="4" height="4" fill="rgb(154, 184, 156)"/><rect x="80" y="32" width="4" height="4" fill="rgb(152, 198, 126)"/><rect x="80" y="36" width="4" height="4" fill="rgb(165, 193, 119)"/><rect x="80" y="40" width="4" height="4" fill="rgb(156, 192, 126)"/><rect x="80" y="44" width="4" height="4" fill="rgb(150, 192, 127)"/><rect x="80" y="48" width="4" height="4" fill="rgb(150, 193, 131)"/><rect x="80" y="52" width="4" height="4" fill="rgb(162, 207, 139)"/><rect x="80" y="56" width="4" height="4" fill="rgb(128, 173, 124)"/><rect x="80" y="60" width="4" height="4" fill="rgb(152, 200, 132)"/><rect x="80" y="64" width="4" height="4" fill="rgb(137, 192, 127)"/><rect x="80" y="68" width="4" height="4" fill="rgb(142, 175, 138)"/><rect x="80" y="72" width="4" height="4" fill="rgb(145, 196, 141)"/><rect x="80" y="76" width="4" height="4" fill="rgb(154, 158, 124)"/><rect x="80" y="80" width="4" height="4" fill="rgb(132, 164, 139)"/><rect x="80" y="84" width="4" height="4" fill="rgb(132, 180, 139)"/><rect x="80" y="88" width="4" height="4" fill="rgb(167, 166, 135)"/><rect x="80" y="92" width="4" height="4" fill="rgb(124, 179, 137)"/><rect x="84" y="0" width="4" height="4" fill="rgb(132, 183, 117)"/><rect x="84" y="4" width="4" height="4" fill="rgb(129, 184, 123)"/><rect x="84" y="8" width="4" height="4" fill="rgb(129, 179, 132)"/><rect x="84" y="12" width="4" height="4" fill="rgb(154, 160, 126)"/><rect x="84" y="16" width="4" height="4" fill="rgb(145, 191, 146)"/><rect x="84" y="20" width="4" height="4" fill="rgb(153, 198, 124)"/><rect x="84" y="24" width="4" height="4" fill="rgb(172, 167, 120)"/><rect x="84" y="28" width="4" height="4" fill="rgb(145, 205, 140)"/><rect x="84" y="32" width="4" height="4" fill="rgb(170, 203, 134)"/><rect x="84" y="36" width="4" height="4" fill="rgb(157, 206, 148)"/><rect x="84" y="40" width="4" height="4" fill="rgb(155, 154, 134)"/><rect x="84" y="44" width="4" height="4" fill="rgb(147, 191, 147)"/><rect x="84" y="48" width="4" height="4" fill="rgb(128, 175, 128)"/><rect x="84" y="52" width="4" height="4" fill="rgb(152, 205, 127)"/><rect x="84" y="56" width="4" height="4" fill="rgb(135, 182, 133)"/><rect x="84" y="60" width="4" height="4" fill="rgb(150, 182, 128)"/><rect x="84" y="64" width="4" height="4" fill="rgb(170, 165, 126)"/><rect x="84" y="68" width="4" height="4" fill="rgb(125, 173, 121)"/><rect x="84" y="72" width="4" height="4" fill="rgb(178, 202, 139)"/><rect x="84" y="76" width="4" height="4" fill="rgb(145, 188, 157)"/><rect x="84" y="80" width="4" height="4" fill="rgb(147, 191, 149)"/><rect x="84" y="84" width="4" height="4" fill="rgb(160, 179, 126)"/><rect x="84" y="88" width="4" height="4" fill="rgb(149, 201, 128)"/><rect x="84" y="92" width="4" height="4" fill="rgb(159, 156, 132)"/><rect x="88" y="0" width="4" height="4" fill="rgb(140, 173, 119)"/><rect x="88" y="4" width="4" height="4" fill="rgb(178, 201, 138)"/><rect x="88" y="8" width="4" height="4" fill="rgb(171, 202, 135)"/><rect x="88" y="12" width="4" height="4" fill="rgb(128, 169, 128)"/><rect x="88" y="16" width="4" height="4" fill="rgb(169, 202, 152)"/><rect x="88" y="20" width="4" height="4" fill="rgb(168, 178, 133)"/><rect x="88" y="24" width="4" height="4" fill="rgb(134, 159, 138)"/><rect x="88" y="28" width="4" height="4" fill="rgb(157, 162, 123)"/><rect x="88" y="32" width="4" height="4" fill="rgb(167, 191, 128)"/><rect x="88" y="36" width="4" height="4" fill="rgb(183, 194, 135)"/><rect x="88" y="40" width="4" height="4" fill="rgb(136, 187, 140)"/><rect x="88" y="44" width="4" height="4" fill="rgb(155, 196, 124)"/><rect x="88" y="48" width="4" height="4" fill="rgb(134, 176, 130)"/><rect x="88" y="52" width="4" height="4" fill="rgb(133, 171, 139)"/><rect x="88" y="56" width="4" height="4" fill="rgb(147, 178, 151)"/><rect x="88" y="60" width="4" height="4" fill="rgb(160, 179, 136)"/><rect x="88" y="64" width="4" height="4" fill="rgb(137, 172, 137)"/><rect x="88" y="68" width="4" height="4" fill="rgb(160, 203, 131)"/><rect x="88" y="72" width="4" height="4" fill="rgb(134, 169, 136)"/><rect x="88" y="76" width="4" height="4" fill="rgb(138, 164, 134)"/><rect x="88" y="80" width="4" height="4" fill="rgb(176, 172, 125)"/><rect x="88" y="84" width="4" height="4" fill="rgb(132, 161, 145)"/><rect x="88" y="88" width="4" height="4" fill="rgb(157, 194, 122)"/><rect x="88" y="92" width="4" height="4" fill="rgb(154, 161, 124)"/><rect x="92" y="0" width="4" height="4" fill="rgb(146, 210, 139)"/><rect x="92" y="4" width="4" height="4" fill="rgb(156, 214, 149)"/><rect x="92" y="8" width="4" height="4" fill="rgb(130, 183, 125)"/><rect x="92" y="12" width="4" height="4" fill="rgb(157, 209, 130)"/><rect x="92" y="16" width="4" height="4" fill="rgb(124, 166, 123)"/><rect x="92" y="20" width="4" height="4" fill="rgb(159, 153, 123)"/><rect x="92" y="24" width="4" height="4" fill="rgb(166, 198, 149)"/><rect x="92" y="28" width="4" height="4" fill="rgb(149, 197, 127)"/><rect x="92" y="32" width="4" height="4" fill="rgb(139, 180, 127)"/><rect x="92" y="36" width="4" height="4" fill="rgb(167, 199, 147)"/><rect x="92" y="40" width="4" height="4" fill="rgb(143, 187, 133)"/><rect x="92" y="44" width="4" height="4" fill="rgb(160, 198, 126)"/><rect x="92" y="48" width="4" height="4" fill="rgb(132, 166, 135)"/><rect x="92" y="52" width="4" height="4" fill="rgb(163, 174, 128)"/><rect x="92" y="56" width="4" height="4" fill="rgb(135, 181, 128)"/><rect x="92" y="60" width="4" height="4" fill="rgb(161, 206, 138)"/><rect x="92" y="64" width="4" height="4" fill="rgb(162, 168, 125)"/><rect x="92" y="68" width="4" height="4" fill="rgb(169, 201, 149)"/><rect x="92" y="72" width="4" height="4" fill="rgb(133, 174, 125)"/><rect x="92" y="76" width="4" height="4" fill="rgb(142, 188, 133)"/><rect x="92" y="80" width="4" height="4" fill="rgb(155, 191, 121)"/><rect x="92" y="84" width="4" height="4" fill="rgb(146, 184, 149)"/><rect x="92" y="88" width="4" height="4" fill="rgb(174, 177, 125)"/><rect x="92" y="92" width="4" height="4" fill="rgb(156, 207, 142)"/></pattern>
<clipPath id="snowclip"><polygon points="170,380 664,31 1100,31 600,383"/></clipPath>
<filter id="gblur" x="0" y="0" width="100%" height="100%"><feGaussianBlur stdDeviation="0.8"/></filter>
<filter id="sblur2" x="-20%" y="-20%" width="140%" height="140%"><feGaussianBlur stdDeviation="1.5"/></filter>
<filter id="sblur" x="-5%" y="-50%" width="110%" height="200%"><feGaussianBlur stdDeviation="2.2"/></filter>
<symbol id="tree" overflow="visible">
<path d="M-8.5,145 L8.5,145 L11,189 Q0,192 -11,189Z" fill="#b9573b" stroke="#262a22" stroke-width="1.8"/>
<path d="M3,147 L8,147 L10,187 L5,188Z" fill="#8e3f2a"/>
<path d="M0,100.1 Q31.1,129.2 69.0,150.0 Q63.5,155.0 55.2,154.0 Q51.9,160.0 44.2,159.0 Q36.4,160.0 33.1,153.0 Q29.8,160.0 22.1,159.0 Q14.4,160.0 11.0,153.0 Q7.7,160.0 -0.0,159.0 Q-7.7,160.0 -11.0,153.0 Q-14.4,160.0 -22.1,159.0 Q-29.8,160.0 -33.1,153.0 Q-36.4,160.0 -44.2,159.0 Q-51.9,160.0 -55.2,153.0 Q-63.5,155.0 -69.0,150.0 Q-31.1,129.2 0,100.1Z" fill="#3f8b1f" stroke="#262a22" stroke-width="2" stroke-linejoin="round"/>
<path d="M0,103.1 Q20.5,127.8 45.5,145.0 Q41.9,150.0 36.4,149.0 Q33.9,154.0 28.0,153.0 Q22.2,154.0 19.7,148.0 Q17.1,154.0 11.3,153.0 Q5.4,154.0 2.9,148.0 Q0.4,154.0 -5.5,153.0 Q-11.4,154.0 -13.9,148.0 Q-16.4,154.0 -22.3,153.0 Q-28.2,154.0 -30.7,148.0 Q-33.2,154.0 -39.1,153.0 Q-45.0,154.0 -47.5,148.0 Q-54.6,150.0 -59.3,145.0 Q-26.7,127.8 0,103.1Z" fill="#6cb23d"/>
<path d="M0,67.9 Q25.2,102.1 56.0,127.0 Q51.5,132.0 44.8,131.0 Q41.4,137.0 33.6,136.0 Q25.8,137.0 22.4,130.0 Q19.0,137.0 11.2,136.0 Q3.4,137.0 0.0,130.0 Q-3.4,137.0 -11.2,136.0 Q-19.0,137.0 -22.4,130.0 Q-25.8,137.0 -33.6,136.0 Q-41.4,137.0 -44.8,130.0 Q-51.5,132.0 -56.0,127.0 Q-25.2,102.1 0,67.9Z" fill="#3f8b1f" stroke="#262a22" stroke-width="2" stroke-linejoin="round"/>
<path d="M0,70.9 Q16.6,100.7 37.0,122.0 Q34.0,127.0 29.6,126.0 Q27.0,131.0 21.1,130.0 Q15.1,131.0 12.5,125.0 Q10.0,131.0 4.0,130.0 Q-1.9,131.0 -4.5,125.0 Q-7.0,131.0 -13.0,130.0 Q-19.0,131.0 -21.5,125.0 Q-24.1,131.0 -30.0,130.0 Q-36.0,131.0 -38.5,125.0 Q-44.3,127.0 -48.2,122.0 Q-21.7,100.7 0,70.9Z" fill="#6cb23d"/>
<path d="M0,54.7 Q20.2,81.3 45.0,100.0 Q41.4,105.0 36.0,104.0 Q33.3,110.0 27.0,109.0 Q20.7,110.0 18.0,103.0 Q15.3,110.0 9.0,109.0 Q2.7,110.0 0.0,103.0 Q-2.7,110.0 -9.0,109.0 Q-15.3,110.0 -18.0,103.0 Q-20.7,110.0 -27.0,109.0 Q-33.3,110.0 -36.0,103.0 Q-41.4,105.0 -45.0,100.0 Q-20.2,81.3 0,54.7Z" fill="#3f8b1f" stroke="#262a22" stroke-width="2" stroke-linejoin="round"/>
<path d="M0,57.7 Q13.4,79.9 29.7,95.0 Q27.3,100.0 23.8,99.0 Q21.7,104.0 16.9,103.0 Q12.1,104.0 10.1,98.0 Q8.0,104.0 3.2,103.0 Q-1.5,104.0 -3.6,98.0 Q-5.7,104.0 -10.4,103.0 Q-15.2,104.0 -17.3,98.0 Q-19.3,104.0 -24.1,103.0 Q-28.9,104.0 -31.0,98.0 Q-35.6,100.0 -38.7,95.0 Q-17.4,79.9 0,57.7Z" fill="#6cb23d"/>
<path d="M0,34.8 Q18.0,60.8 40.0,79.0 Q36.8,84.0 32.0,83.0 Q28.8,89.0 21.3,88.0 Q13.9,89.0 10.7,82.0 Q7.5,89.0 0.0,88.0 Q-7.5,89.0 -10.7,82.0 Q-13.9,89.0 -21.3,88.0 Q-28.8,89.0 -32.0,82.0 Q-36.8,84.0 -40.0,79.0 Q-18.0,60.8 0,34.8Z" fill="#3f8b1f" stroke="#262a22" stroke-width="2" stroke-linejoin="round"/>
<path d="M0,37.8 Q11.9,59.4 26.4,74.0 Q24.3,79.0 21.1,78.0 Q18.7,83.0 13.0,82.0 Q7.3,83.0 4.9,77.0 Q2.5,83.0 -3.2,82.0 Q-8.9,83.0 -11.3,77.0 Q-13.7,83.0 -19.4,82.0 Q-25.1,83.0 -27.5,77.0 Q-31.6,79.0 -34.4,74.0 Q-15.5,59.4 0,37.8Z" fill="#6cb23d"/>
<path d="M0,10.9 Q14.0,38.7 31.0,58.5 Q28.5,63.5 24.8,62.5 Q22.3,68.5 16.5,67.5 Q10.7,68.5 8.3,61.5 Q5.8,68.5 -0.0,67.5 Q-5.8,68.5 -8.3,61.5 Q-10.7,68.5 -16.5,67.5 Q-22.3,68.5 -24.8,61.5 Q-28.5,63.5 -31.0,58.5 Q-14.0,38.7 0,10.9Z" fill="#3f8b1f" stroke="#262a22" stroke-width="2" stroke-linejoin="round"/>
<path d="M0,13.9 Q9.2,37.3 20.5,53.5 Q18.8,58.5 16.4,57.5 Q14.5,62.5 10.1,61.5 Q5.7,62.5 3.8,56.5 Q1.9,62.5 -2.5,61.5 Q-6.9,62.5 -8.8,56.5 Q-10.6,62.5 -15.0,61.5 Q-19.4,62.5 -21.3,56.5 Q-24.5,58.5 -26.7,53.5 Q-12.0,37.3 0,13.9Z" fill="#6cb23d"/>
<path d="M0,-1.9 Q12.2,20.9 27.0,36.5 Q24.8,41.5 21.6,40.5 Q19.4,46.5 14.4,45.5 Q9.4,46.5 7.2,39.5 Q5.0,46.5 0.0,45.5 Q-5.0,46.5 -7.2,39.5 Q-9.4,46.5 -14.4,45.5 Q-19.4,46.5 -21.6,39.5 Q-24.8,41.5 -27.0,36.5 Q-12.2,20.9 0,-1.9Z" fill="#3f8b1f" stroke="#262a22" stroke-width="2" stroke-linejoin="round"/>
<path d="M0,1.1 Q8.0,19.5 17.8,31.5 Q16.4,36.5 14.3,35.5 Q12.6,40.5 8.8,39.5 Q5.0,40.5 3.3,34.5 Q1.7,40.5 -2.2,39.5 Q-6.0,40.5 -7.6,34.5 Q-9.3,40.5 -13.1,39.5 Q-16.9,40.5 -18.6,34.5 Q-21.4,36.5 -23.2,31.5 Q-10.4,19.5 0,1.1Z" fill="#6cb23d"/>
<path d="M0,0.0 Q9.5,11.8 21.0,18.5 Q19.3,23.5 16.8,22.5 Q14.3,28.5 8.4,27.5 Q2.5,28.5 0.0,21.5 Q-2.5,28.5 -8.4,27.5 Q-14.3,28.5 -16.8,21.5 Q-19.3,23.5 -21.0,18.5 Q-9.5,11.8 0,0.0Z" fill="#3f8b1f" stroke="#262a22" stroke-width="2" stroke-linejoin="round"/>
<path d="M0,3.0 Q6.2,10.4 13.9,13.5 Q12.8,18.5 11.1,17.5 Q9.2,22.5 4.7,21.5 Q0.2,22.5 -1.7,16.5 Q-3.6,22.5 -8.1,21.5 Q-12.5,22.5 -14.4,16.5 Q-16.6,18.5 -18.1,13.5 Q-8.1,10.4 0,3.0Z" fill="#6cb23d"/>
</symbol>
</defs>
<rect width="2067" height="1977" fill="#fff"/>
<rect x="170" y="383" width="1070" height="940" fill="#cdecfc"/>
<polygon points="170.0,1262.0 208.8,1255.6 250.6,1239.6 311.6,1176.4 419.8,1196.8 560.0,1268.0 674.7,1308.0 830.6,1259.4 918.0,1212.3 995.5,1202.2 1069.5,1244.2 1179.0,1286.3 1240.0,1266.0 1240,1975 170,1975" fill="#dadada"/>
<polygon points="1240,383 1740,33 1740,1627 1240,1972" fill="#cdecfc"/>
<polygon points="1240.0,1266.0 1322.6,1288.2 1400.3,1213.8 1441.6,1106.4 1539.0,1053.5 1570.5,992.3 1577.0,893.2 1671.3,851.9 1740.0,714.0 1740,1627 1240,1972" fill="#dadada"/>
<g clip-path="url(#snowclip)">
<polygon points="170,380 664,31 1100,31 600,383" fill="#fafafa"/>
<g filter="url(#sblur2)">
<polygon points="243,62 227,65 214,68 203,64 197,58 215,57 229,57" fill="#e8e8e8"/>
<polygon points="488,117 488,125 479,124 472,121 471,113 477,106 485,112" fill="#e8e8e8"/>
<polygon points="314,309 308,318 299,325 290,316 293,304 299,293 308,301" fill="#e8e8e8"/>
<polygon points="762,217 757,224 730,225 708,221 709,213 729,208 758,208" fill="#e8e8e8"/>
<polygon points="644,266 631,270 617,273 601,269 604,264 619,262 632,262" fill="#e8e8e8"/>
<polygon points="552,57 544,63 531,64 514,62 521,54 530,48 544,50" fill="#e8e8e8"/>
<polygon points="704,286 689,297 658,298 643,290 638,281 660,277 689,274" fill="#e8e8e8"/>
<polygon points="593,296 590,300 581,301 574,298 573,293 581,289 589,292" fill="#e8e8e8"/>
<polygon points="237,156 236,163 226,162 215,161 218,152 225,144 235,150" fill="#e8e8e8"/>
<polygon points="629,295 624,304 604,306 594,299 591,291 605,286 620,289" fill="#e8e8e8"/>
<polygon points="418,59 407,63 384,63 360,61 355,55 381,52 405,54" fill="#e8e8e8"/>
<polygon points="313,374 300,382 284,382 273,378 266,369 283,364 304,363" fill="#e8e8e8"/>
<polygon points="888,376 869,380 853,384 831,381 836,373 854,370 874,370" fill="#e8e8e8"/>
<polygon points="702,161 696,168 672,168 654,164 653,157 669,150 690,156" fill="#e8e8e8"/>
<polygon points="378,101 374,112 348,111 328,106 328,96 346,88 378,88" fill="#e8e8e8"/>
<polygon points="954,219 942,228 917,227 893,224 897,215 916,210 938,212" fill="#e8e8e8"/>
<polygon points="395,207 388,218 375,219 366,212 365,202 376,199 384,201" fill="#e8e8e8"/>
<polygon points="994,158 989,167 966,166 945,163 944,154 967,151 992,149" fill="#e8e8e8"/>
<polygon points="245,177 242,187 224,188 204,184 214,173 224,166 244,165" fill="#e8e8e8"/>
<polygon points="478,363 477,371 466,375 460,367 458,359 467,356 477,357" fill="#e8e8e8"/>
<polygon points="733,118 715,125 694,131 684,122 686,116 695,108 720,109" fill="#e8e8e8"/>
<polygon points="653,46 639,53 608,51 579,50 586,43 605,38 639,39" fill="#e8e8e8"/>
<polygon points="910,133 903,143 884,148 876,137 873,127 886,122 904,122" fill="#e8e8e8"/>
<polygon points="580,245 579,250 560,253 541,249 542,241 561,239 582,238" fill="#e8e8e8"/>
<polygon points="618,130 611,137 602,138 590,136 597,128 601,119 612,124" fill="#e8e8e8"/>
<polygon points="928,70 919,79 901,82 890,74 890,66 902,60 916,63" fill="#e8e8e8"/>
<polygon points="1049,57 1036,61 1012,61 981,60 985,54 1008,50 1034,53" fill="#e8e8e8"/>
<polygon points="457,96 448,104 439,104 430,101 432,93 439,87 448,89" fill="#e8e8e8"/>
<polygon points="816,184 800,191 783,190 771,187 763,180 780,173 797,179" fill="#e8e8e8"/>
<polygon points="620,334 610,338 594,339 572,338 583,333 592,328 614,329" fill="#e8e8e8"/>
<polygon points="738,145 727,152 719,154 710,150 707,139 719,138 731,135" fill="#e8e8e8"/>
<polygon points="268,42 260,51 248,49 241,46 238,38 248,36 260,34" fill="#e8e8e8"/>
<polygon points="527,368 520,377 497,381 486,372 487,364 498,357 520,358" fill="#e8e8e8"/>
<polygon points="917,318 908,322 900,322 889,321 889,315 899,312 911,312" fill="#e8e8e8"/>
<polygon points="991,331 979,338 966,341 951,336 951,326 966,322 979,325" fill="#e8e8e8"/>
<polygon points="832,32 820,39 807,46 794,38 796,27 809,23 824,22" fill="#e8e8e8"/>
<polygon points="883,101 877,105 857,108 845,103 836,98 856,93 875,97" fill="#e8e8e8"/>
<polygon points="225,288 215,300 189,299 177,292 163,280 189,273 209,279" fill="#e8e8e8"/>
<polygon points="1009,57 1007,63 997,65 989,60 989,53 998,51 1008,51" fill="#e8e8e8"/>
<polygon points="1109,147 1096,157 1071,158 1057,151 1059,144 1072,139 1089,141" fill="#e8e8e8"/>
<polygon points="909,326 903,337 876,342 865,330 867,322 879,315 906,312" fill="#e8e8e8"/>
<polygon points="945,77 935,81 913,85 890,80 903,74 917,72 942,70" fill="#e8e8e8"/>
<polygon points="555,231 549,238 530,242 510,236 517,227 532,224 548,225" fill="#e8e8e8"/>
<polygon points="454,369 450,379 430,381 421,373 415,365 430,359 450,360" fill="#e8e8e8"/>
<polygon points="246,235 237,242 225,245 216,239 211,229 224,222 235,229" fill="#e8e8e8"/>
<polygon points="229,219 218,223 206,225 198,221 192,216 205,213 223,214" fill="#e8e8e8"/>
<polygon points="1011,248 1006,255 987,255 979,250 980,245 988,242 1004,241" fill="#e8e8e8"/>
<polygon points="318,279 308,285 292,287 280,282 275,276 291,270 311,272" fill="#e8e8e8"/>
<polygon points="1114,357 1113,367 1084,370 1064,362 1066,352 1085,345 1112,347" fill="#e8e8e8"/>
<polygon points="958,200 952,211 936,210 923,205 922,194 935,187 953,188" fill="#e8e8e8"/>
<polygon points="503,91 496,98 481,100 472,94 473,87 480,79 493,85" fill="#e8e8e8"/>
<polygon points="729,374 717,383 699,386 688,379 683,369 699,363 715,366" fill="#e8e8e8"/>
<polygon points="1065,253 1058,267 1038,265 1025,259 1028,249 1037,238 1057,240" fill="#e8e8e8"/>
<polygon points="823,281 823,294 810,292 799,288 798,274 810,271 821,270" fill="#e8e8e8"/>
<polygon points="416,366 408,374 399,377 390,372 387,359 398,351 409,357" fill="#e8e8e8"/>
<polygon points="589,330 583,338 562,339 543,334 549,326 564,324 576,325" fill="#e8e8e8"/>
<polygon points="1102,160 1093,172 1068,174 1046,167 1044,152 1067,144 1092,147" fill="#e8e8e8"/>
<polygon points="225,76 212,85 195,91 184,81 180,70 197,66 217,63" fill="#e8e8e8"/>
<polygon points="510,140 509,146 498,150 494,143 491,137 499,134 510,134" fill="#e8e8e8"/>
<polygon points="247,97 241,104 226,105 215,101 209,93 227,91 239,92" fill="#e8e8e8"/>
<polygon points="828,161 824,172 810,177 797,168 801,155 811,148 820,153" fill="#e8e8e8"/>
<polygon points="255,361 240,369 212,368 199,363 189,356 213,354 236,354" fill="#e8e8e8"/>
<polygon points="652,43 642,47 632,51 623,46 621,39 631,33 645,36" fill="#e8e8e8"/>
<polygon points="963,104 958,111 946,115 938,108 936,100 947,96 960,96" fill="#e8e8e8"/>
<polygon points="615,351 612,361 597,364 588,356 579,344 595,335 612,342" fill="#e8e8e8"/>
<polygon points="712,218 706,223 691,223 679,220 679,215 690,211 702,214" fill="#e8e8e8"/>
<polygon points="668,351 665,359 651,359 637,356 635,345 651,342 663,343" fill="#e8e8e8"/>
<polygon points="850,76 835,84 815,87 798,81 787,70 815,66 841,66" fill="#e8e8e8"/>
<polygon points="248,336 229,343 211,346 192,341 186,330 211,327 229,330" fill="#e8e8e8"/>
<polygon points="408,153 402,161 393,167 388,157 384,147 393,139 404,143" fill="#e8e8e8"/>
<polygon points="330,268 325,279 311,283 301,273 304,263 312,256 324,257" fill="#e8e8e8"/>
<polygon points="1039,82 1030,91 1016,97 1006,87 1002,75 1018,72 1030,72" fill="#e8e8e8"/>
<polygon points="397,346 392,351 383,356 373,350 373,343 384,340 395,340" fill="#e8e8e8"/>
<polygon points="407,249 401,259 379,264 363,255 350,241 378,234 410,235" fill="#e8e8e8"/>
<polygon points="195,282 184,287 175,291 167,286 167,277 176,273 188,272" fill="#e8e8e8"/>
<polygon points="783,81 773,88 759,89 744,85 747,77 759,73 776,72" fill="#e8e8e8"/>
<polygon points="416,157 398,162 380,162 354,161 360,154 378,150 402,152" fill="#e8e8e8"/>
<polygon points="360,94 348,98 329,103 313,97 310,91 331,87 350,89" fill="#e8e8e8"/>
<polygon points="436,233 430,245 403,248 393,237 378,225 402,214 425,224" fill="#e8e8e8"/>
<polygon points="752,85 739,92 720,96 703,90 707,82 719,73 736,80" fill="#e8e8e8"/>
<polygon points="210,78 203,86 188,85 176,82 180,75 188,70 201,71" fill="#e8e8e8"/>
<polygon points="633,165 622,175 608,176 597,170 591,158 605,147 622,156" fill="#e8e8e8"/>
<polygon points="292,160 276,166 249,168 237,162 233,157 249,152 274,154" fill="#e8e8e8"/>
<polygon points="298,205 288,215 257,219 246,209 245,201 261,198 290,194" fill="#e8e8e8"/>
<polygon points="255,220 254,231 233,230 220,225 217,215 234,212 251,211" fill="#e8e8e8"/>
<polygon points="966,43 952,52 932,59 919,48 916,37 934,31 950,35" fill="#e8e8e8"/>
<polygon points="330,365 326,376 308,375 287,372 292,360 306,349 328,354" fill="#e8e8e8"/>
<polygon points="801,169 785,176 768,178 745,175 744,162 768,158 788,160" fill="#e8e8e8"/>
<polygon points="601,251 592,258 578,261 571,254 567,247 579,244 592,244" fill="#e8e8e8"/>
<polygon points="330,206 326,212 314,213 307,209 306,203 315,201 324,201" fill="#e8e8e8"/>
<polygon points="389,111 378,115 358,118 341,114 335,108 357,103 378,108" fill="#e8e8e8"/>
<polygon points="1106,240 1090,251 1068,251 1044,247 1052,234 1068,229 1087,230" fill="#e8e8e8"/>
<polygon points="719,351 711,359 687,360 669,355 674,348 689,344 705,345" fill="#e8e8e8"/>
<polygon points="856,236 852,248 840,252 832,242 836,233 842,228 853,224" fill="#e8e8e8"/>
<polygon points="246,53 236,57 218,58 205,55 204,51 219,49 234,50" fill="#e8e8e8"/>
<polygon points="390,147 382,153 369,154 358,150 362,145 369,141 380,142" fill="#e8e8e8"/>
<polygon points="806,155 801,165 777,168 752,162 764,150 779,144 798,147" fill="#e8e8e8"/>
<polygon points="999,125 996,130 975,130 960,127 953,121 975,120 999,118" fill="#e8e8e8"/>
<polygon points="214,53 201,60 177,62 159,57 164,50 176,44 204,45" fill="#e8e8e8"/>
<polygon points="994,105 979,108 967,109 947,108 953,102 966,99 984,100" fill="#e8e8e8"/>
<polygon points="866,35 853,45 833,43 811,41 812,29 832,23 852,25" fill="#e8e8e8"/>
<polygon points="745,276 726,281 701,283 687,278 683,273 703,271 728,271" fill="#e8e8e8"/>
<polygon points="925,194 926,204 912,204 902,198 902,190 912,186 924,185" fill="#e8e8e8"/>
<polygon points="1034,342 1022,351 1005,352 991,347 985,336 1004,331 1020,335" fill="#e8e8e8"/>
<polygon points="1001,118 996,128 979,133 965,124 969,114 979,104 997,109" fill="#e8e8e8"/>
<polygon points="862,286 862,298 850,295 839,292 840,281 848,272 862,275" fill="#e8e8e8"/>
<polygon points="440,313 435,324 422,323 415,317 412,308 423,304 431,306" fill="#e8e8e8"/>
<polygon points="1091,231 1088,240 1077,241 1071,234 1066,225 1077,222 1088,222" fill="#e8e8e8"/>
<polygon points="386,56 381,66 368,65 359,60 360,52 367,46 378,49" fill="#e8e8e8"/>
<polygon points="1081,318 1066,321 1048,324 1032,320 1036,316 1049,313 1069,314" fill="#e8e8e8"/>
<polygon points="1094,51 1073,60 1050,68 1034,56 1025,43 1053,40 1082,36" fill="#e8e8e8"/>
<polygon points="1023,293 1018,301 996,301 970,299 981,290 996,286 1023,283" fill="#e8e8e8"/>
<polygon points="700,224 695,230 680,233 665,228 661,219 678,211 702,214" fill="#e8e8e8"/>
<polygon points="659,95 660,104 640,108 631,99 624,90 642,86 659,87" fill="#e8e8e8"/>
<polygon points="889,234 878,240 857,241 843,237 846,232 856,227 878,227" fill="#e8e8e8"/>
<polygon points="1015,193 1011,197 999,200 986,196 984,189 998,185 1012,188" fill="#e8e8e8"/>
<polygon points="861,103 857,115 836,119 818,110 821,96 836,86 859,88" fill="#e8e8e8"/>
<polygon points="612,104 603,111 588,115 579,107 579,100 587,92 605,95" fill="#e8e8e8"/>
<polygon points="947,218 942,224 916,226 904,220 905,216 917,212 936,213" fill="#e8e8e8"/>
<polygon points="819,36 806,44 782,47 766,40 760,31 782,24 809,27" fill="#e8e8e8"/>
</g>
<g filter="url(#sblur)" fill="none" stroke-linecap="round" stroke-linejoin="round">
<path d="M115.5,35.1 L122.5,35.3 L129.5,40.6 L136.5,40.3 L143.5,46.4 L150.5,43.5 L157.5,44.2 L164.5,40.4 L171.5,39.1 L178.5,37.5 L185.5,33.1 L192.5,35.7 L199.5,37.9 L206.5,39.8 L213.5,42.4 L220.5,45.7 L227.5,45.4 L234.5,45.4 L241.5,40.1 L248.5,35.8" stroke="#808080" stroke-width="3.8" opacity="0.8"/>
<path d="M270.2,40.8 L277.2,38.3 L284.2,37.0 L291.2,39.0 L298.2,42.2 L305.2,43.8 L312.2,42.8 L319.2,38.1 L326.2,36.2 L333.2,38.6 L340.2,39.9 L347.2,41.7 L354.2,41.8 L361.2,39.2" stroke="#6c6c6c" stroke-width="4.9" opacity="0.8"/>
<path d="M379.9,40.5 L386.9,44.8 L393.9,42.9 L400.9,44.6 L407.9,40.9 L414.9,38.3 L421.9,38.2 L428.9,37.1 L435.9,35.6 L442.9,39.1 L449.9,41.8 L456.9,43.6" stroke="#a8a8a8" stroke-width="3.1" opacity="0.8"/>
<path d="M484.2,36.8 L491.2,37.6 L498.2,38.2 L505.2,38.5 L512.2,38.3 L519.2,40.7 L526.2,43.4 L533.2,45.2 L540.2,44.4 L547.2,39.6 L554.2,40.5 L561.2,37.8 L568.2,37.5 L575.2,36.4 L582.2,40.0" stroke="#a8a8a8" stroke-width="3.7" opacity="0.8"/>
<path d="M603.2,37.3 L610.2,34.8 L617.2,33.8 L624.2,39.2 L631.2,41.2 L638.2,43.5 L645.2,44.0 L652.2,42.7 L659.2,40.6 L666.2,35.3 L673.2,35.3 L680.2,34.2 L687.2,35.7 L694.2,42.7 L701.2,46.2 L708.2,45.0 L715.2,43.7 L722.2,42.5" stroke="#a8a8a8" stroke-width="4.3" opacity="0.8"/>
<path d="M727.0,32.7 L734.0,33.6 L741.0,36.4 L748.0,40.1 L755.0,46.0 L762.0,47.5 L769.0,42.8 L776.0,37.0 L783.0,33.5 L790.0,33.8 L797.0,37.0 L804.0,42.3 L811.0,43.3" stroke="#4e4e4e" stroke-width="3.7" opacity="0.8"/>
<path d="M822.8,37.7 L829.8,42.1 L836.8,43.3 L843.8,45.1 L850.8,40.7 L857.8,41.5 L864.8,40.0 L871.8,37.3 L878.8,37.9" stroke="#a8a8a8" stroke-width="3.9" opacity="0.8"/>
<path d="M898.8,42.6 L905.8,44.2 L912.8,43.8 L919.8,37.8 L926.8,38.1 L933.8,39.3 L940.8,42.6 L947.8,43.4 L954.8,41.7 L961.8,40.4 L968.8,38.8 L975.8,37.7 L982.8,42.9" stroke="#6c6c6c" stroke-width="3.8" opacity="0.8"/>
<path d="M1010.7,37.0 L1017.7,35.1 L1024.7,36.0 L1031.7,40.1 L1038.7,43.8 L1045.7,45.7 L1052.7,42.7 L1059.7,38.4 L1066.7,37.2 L1073.7,35.9" stroke="#808080" stroke-width="4.4" opacity="0.8"/>
<path d="M1105.3,38.5 L1112.3,38.4 L1119.3,37.9 L1126.3,37.5 L1133.3,38.1 L1140.3,42.1 L1147.3,44.3 L1154.3,43.2 L1161.3,44.4 L1168.3,41.6 L1175.3,38.6 L1182.3,37.1 L1189.3,35.9 L1196.3,36.1 L1203.3,39.8 L1210.3,42.3 L1217.3,43.1 L1224.3,42.4 L1231.3,44.8" stroke="#a8a8a8" stroke-width="4.9" opacity="0.8"/>
<path d="M130.3,60.8 L137.3,60.2 L144.3,57.1 L151.3,59.9 L158.3,61.4 L165.3,61.2 L172.3,63.7 L179.3,60.5 L186.3,56.1 L193.3,59.0 L200.3,60.9 L207.3,64.6 L214.3,61.5" stroke="#6c6c6c" stroke-width="4.2" opacity="0.8"/>
<path d="M228.9,64.4 L235.9,59.4 L242.9,59.8 L249.9,56.5 L256.9,60.0 L263.9,63.3 L270.9,60.9 L277.9,61.0 L284.9,61.0 L291.9,59.5 L298.9,55.6 L305.9,60.3 L312.9,60.0 L319.9,63.7 L326.9,62.9 L333.9,58.0 L340.9,59.2 L347.9,57.4 L354.9,58.7 L361.9,59.9" stroke="#a8a8a8" stroke-width="4.1" opacity="0.8"/>
<path d="M368.3,58.2 L375.3,57.6 L382.3,55.5 L389.3,55.8 L396.3,61.2 L403.3,61.5 L410.3,62.5 L417.3,65.1 L424.3,61.8 L431.3,59.0 L438.3,57.0 L445.3,57.7 L452.3,55.7 L459.3,58.5 L466.3,60.3 L473.3,65.0" stroke="#4e4e4e" stroke-width="4.1" opacity="0.8"/>
<path d="M501.7,58.7 L508.7,60.5 L515.7,63.1 L522.7,62.7 L529.7,64.7 L536.7,63.6 L543.7,59.5 L550.7,55.4 L557.7,58.1 L564.7,56.6 L571.7,62.0 L578.7,61.6 L585.7,62.3 L592.7,61.1" stroke="#4e4e4e" stroke-width="3.3" opacity="0.8"/>
<path d="M625.0,61.7 L632.0,59.5 L639.0,56.3 L646.0,57.0 L653.0,61.4 L660.0,61.0 L667.0,61.5 L674.0,60.6 L681.0,58.1 L688.0,56.6 L695.0,58.3 L702.0,59.9 L709.0,62.2 L716.0,62.8 L723.0,61.0 L730.0,62.5 L737.0,60.1" stroke="#4e4e4e" stroke-width="3.7" opacity="0.8"/>
<path d="M758.9,61.2 L765.9,65.9 L772.9,65.7 L779.9,63.4 L786.9,63.1 L793.9,60.3 L800.9,56.8 L807.9,55.6" stroke="#a8a8a8" stroke-width="3.0" opacity="0.8"/>
<path d="M821.9,60.4 L828.9,60.2 L835.9,59.7 L842.9,57.9 L849.9,59.4 L856.9,61.8 L863.9,63.0 L870.9,64.9 L877.9,64.4 L884.9,60.6 L891.9,60.5 L898.9,58.5 L905.9,58.4" stroke="#a8a8a8" stroke-width="4.2" opacity="0.8"/>
<path d="M937.7,63.2 L944.7,60.5 L951.7,55.8 L958.7,54.5 L965.7,56.4 L972.7,62.6 L979.7,64.2 L986.7,63.6 L993.7,62.2 L1000.7,58.3 L1007.7,53.3 L1014.7,58.4 L1021.7,61.7 L1028.7,65.1" stroke="#5a5a5a" stroke-width="4.6" opacity="0.8"/>
<path d="M1058.5,61.4 L1065.5,60.4 L1072.5,64.0 L1079.5,65.4 L1086.5,63.9 L1093.5,60.0 L1100.5,58.3 L1107.5,57.2 L1114.5,58.8 L1121.5,57.6 L1128.5,61.0 L1135.5,59.4 L1142.5,62.4 L1149.5,61.8 L1156.5,61.5 L1163.5,63.9" stroke="#4e4e4e" stroke-width="4.3" opacity="0.8"/>
<path d="M110.9,86.0 L117.9,84.7 L124.9,84.5 L131.9,83.6 L138.9,84.9 L145.9,88.6 L152.9,90.5 L159.9,91.6 L166.9,91.4 L173.9,91.0 L180.9,86.1 L187.9,85.2 L194.9,82.2 L201.9,84.0 L208.9,83.8 L215.9,87.4" stroke="#808080" stroke-width="4.3" opacity="0.8"/>
<path d="M218.3,92.0 L225.3,90.3 L232.3,85.6 L239.3,84.1 L246.3,83.1 L253.3,80.5 L260.3,83.4 L267.3,89.0 L274.3,92.4 L281.3,93.3 L288.3,91.2 L295.3,84.9 L302.3,82.3 L309.3,79.2" stroke="#6c6c6c" stroke-width="4.7" opacity="0.8"/>
<path d="M318.8,87.5 L325.8,84.4 L332.8,84.3 L339.8,87.7 L346.8,88.5 L353.8,92.2 L360.8,91.5 L367.8,87.6 L374.8,82.8 L381.8,82.5 L388.8,82.9 L395.8,85.2" stroke="#4e4e4e" stroke-width="4.3" opacity="0.8"/>
<path d="M416.4,83.2 L423.4,88.8 L430.4,90.9 L437.4,90.9 L444.4,88.1 L451.4,87.0 L458.4,81.4 L465.4,80.3 L472.4,84.9 L479.4,86.6 L486.4,89.3 L493.4,93.1 L500.4,88.4 L507.4,88.4" stroke="#5a5a5a" stroke-width="4.4" opacity="0.8"/>
<path d="M538.0,86.2 L545.0,82.8 L552.0,82.9 L559.0,87.7 L566.0,87.5 L573.0,89.4 L580.0,89.3 L587.0,85.9 L594.0,84.5 L601.0,86.5" stroke="#808080" stroke-width="4.7" opacity="0.8"/>
<path d="M605.4,88.5 L612.4,89.3 L619.4,88.5 L626.4,85.3 L633.4,85.1 L640.4,86.4 L647.4,83.5 L654.4,84.3 L661.4,86.1 L668.4,88.0 L675.4,88.6" stroke="#5a5a5a" stroke-width="3.3" opacity="0.8"/>
<path d="M708.8,80.1 L715.8,80.9 L722.8,84.7 L729.8,88.9 L736.8,91.2 L743.8,92.0 L750.8,88.4 L757.8,83.0 L764.8,82.6 L771.8,84.3 L778.8,83.9 L785.8,91.9 L792.8,93.4" stroke="#949494" stroke-width="3.5" opacity="0.8"/>
<path d="M801.0,86.4 L808.0,82.5 L815.0,84.5 L822.0,85.0 L829.0,88.3 L836.0,88.7 L843.0,87.6 L850.0,85.6 L857.0,82.9 L864.0,86.4 L871.0,89.4 L878.0,89.0 L885.0,90.7 L892.0,88.1 L899.0,85.9 L906.0,83.3 L913.0,87.8" stroke="#5a5a5a" stroke-width="4.3" opacity="0.8"/>
<path d="M947.0,89.0 L954.0,90.5 L961.0,85.8 L968.0,87.0 L975.0,84.0 L982.0,84.5 L989.0,85.9 L996.0,87.7 L1003.0,90.3 L1010.0,91.9 L1017.0,89.7 L1024.0,85.7 L1031.0,86.7 L1038.0,84.9" stroke="#808080" stroke-width="3.5" opacity="0.8"/>
<path d="M1063.9,84.3 L1070.9,81.8 L1077.9,84.9 L1084.9,86.1 L1091.9,89.5 L1098.9,89.4 L1105.9,89.0 L1112.9,87.7 L1119.9,83.3 L1126.9,84.2 L1133.9,84.9 L1140.9,89.7 L1147.9,91.4" stroke="#6c6c6c" stroke-width="4.3" opacity="0.8"/>
<path d="M129.7,112.3 L136.7,116.3 L143.7,116.3 L150.7,115.8 L157.7,112.9 L164.7,109.4 L171.7,107.2 L178.7,106.3 L185.7,106.7 L192.7,110.0 L199.7,112.1 L206.7,113.8 L213.7,117.6 L220.7,116.3 L227.7,116.4" stroke="#6c6c6c" stroke-width="4.9" opacity="0.8"/>
<path d="M235.4,109.0 L242.4,108.6 L249.4,114.1 L256.4,115.4 L263.4,112.8 L270.4,110.9 L277.4,109.3 L284.4,110.6 L291.4,113.1 L298.4,113.4 L305.4,111.3 L312.4,112.1 L319.4,107.8 L326.4,108.1 L333.4,112.0" stroke="#5a5a5a" stroke-width="3.6" opacity="0.8"/>
<path d="M356.4,109.9 L363.4,111.5 L370.4,113.2 L377.4,115.2 L384.4,115.7 L391.4,111.9 L398.4,113.2 L405.4,109.1 L412.4,108.9 L419.4,109.8 L426.4,111.9 L433.4,113.1 L440.4,113.7 L447.4,114.8 L454.4,113.0 L461.4,112.9 L468.4,111.1" stroke="#5a5a5a" stroke-width="4.5" opacity="0.8"/>
<path d="M499.7,109.1 L506.7,110.5 L513.7,111.0 L520.7,116.0 L527.7,114.1 L534.7,110.5 L541.7,106.6 L548.7,108.6 L555.7,111.5 L562.7,115.6 L569.7,114.2 L576.7,108.9 L583.7,107.6 L590.7,108.7 L597.7,111.2 L604.7,114.7 L611.7,111.6 L618.7,111.0 L625.7,110.0" stroke="#4e4e4e" stroke-width="3.2" opacity="0.8"/>
<path d="M654.2,109.3 L661.2,112.9 L668.2,115.6 L675.2,112.8 L682.2,107.4 L689.2,105.0 L696.2,107.5 L703.2,114.5 L710.2,114.5 L717.2,113.6" stroke="#a8a8a8" stroke-width="4.4" opacity="0.8"/>
<path d="M724.8,114.4 L731.8,113.2 L738.8,107.6 L745.8,104.7 L752.8,106.0 L759.8,115.0 L766.8,117.4 L773.8,117.1 L780.8,110.3" stroke="#808080" stroke-width="5.0" opacity="0.8"/>
<path d="M808.0,114.7 L815.0,115.2 L822.0,110.5 L829.0,108.7 L836.0,106.6 L843.0,109.2 L850.0,110.7 L857.0,116.4 L864.0,113.7 L871.0,112.6 L878.0,109.9" stroke="#949494" stroke-width="4.4" opacity="0.8"/>
<path d="M910.7,113.4 L917.7,108.4 L924.7,106.5 L931.7,110.7 L938.7,112.0 L945.7,113.2 L952.7,112.5 L959.7,112.3 L966.7,108.9 L973.7,106.7 L980.7,108.7 L987.7,114.0 L994.7,113.1 L1001.7,114.1 L1008.7,109.1 L1015.7,108.6 L1022.7,109.8 L1029.7,109.8 L1036.7,113.4 L1043.7,113.3" stroke="#949494" stroke-width="3.0" opacity="0.8"/>
<path d="M1060.8,107.9 L1067.8,106.5 L1074.8,105.9 L1081.8,110.5 L1088.8,110.8 L1095.8,115.4 L1102.8,116.8 L1109.8,115.2 L1116.8,108.4 L1123.8,107.0 L1130.8,104.5 L1137.8,108.5 L1144.8,111.9 L1151.8,115.8 L1158.8,116.7 L1165.8,115.3" stroke="#6c6c6c" stroke-width="3.3" opacity="0.8"/>
<path d="M116.5,132.9 L123.5,132.3 L130.5,131.7 L137.5,132.6 L144.5,136.8 L151.5,136.3 L158.5,136.7 L165.5,137.0 L172.5,136.9 L179.5,136.5 L186.5,133.5 L193.5,135.6 L200.5,135.0 L207.5,133.6 L214.5,135.4 L221.5,140.5 L228.5,140.0" stroke="#4e4e4e" stroke-width="3.3" opacity="0.8"/>
<path d="M257.3,141.2 L264.3,137.4 L271.3,135.3 L278.3,134.5 L285.3,135.0 L292.3,137.6 L299.3,138.8 L306.3,139.3 L313.3,133.4 L320.3,132.7 L327.3,133.2 L334.3,138.4 L341.3,140.8 L348.3,138.3 L355.3,136.8 L362.3,131.1 L369.3,132.5" stroke="#5a5a5a" stroke-width="4.9" opacity="0.8"/>
<path d="M376.0,140.5 L383.0,138.7 L390.0,131.8 L397.0,132.6 L404.0,130.0 L411.0,136.1 L418.0,140.1 L425.0,140.9 L432.0,138.4 L439.0,137.4 L446.0,130.3 L453.0,129.6 L460.0,133.4 L467.0,137.4 L474.0,139.7 L481.0,139.8 L488.0,135.4 L495.0,134.7" stroke="#808080" stroke-width="3.9" opacity="0.8"/>
<path d="M519.8,134.3 L526.8,133.8 L533.8,131.8 L540.8,136.6 L547.8,137.5 L554.8,136.9 L561.8,138.3 L568.8,135.0 L575.8,134.9 L582.8,134.8 L589.8,136.8 L596.8,139.8 L603.8,138.0 L610.8,133.1 L617.8,131.9 L624.8,135.5 L631.8,139.6 L638.8,140.2 L645.8,134.6 L652.8,132.7" stroke="#4e4e4e" stroke-width="4.7" opacity="0.8"/>
<path d="M669.7,139.4 L676.7,136.7 L683.7,134.4 L690.7,128.9 L697.7,129.1 L704.7,136.2 L711.7,136.9 L718.7,142.9 L725.7,140.5 L732.7,137.3 L739.7,135.4 L746.7,129.9 L753.7,132.1 L760.7,134.2 L767.7,136.0 L774.7,139.8 L781.7,139.4 L788.7,138.5 L795.7,132.2" stroke="#4e4e4e" stroke-width="4.1" opacity="0.8"/>
<path d="M828.3,131.7 L835.3,133.0 L842.3,137.2 L849.3,141.3 L856.3,138.6 L863.3,136.6 L870.3,132.5 L877.3,133.5" stroke="#949494" stroke-width="4.6" opacity="0.8"/>
<path d="M890.6,137.9 L897.6,133.3 L904.6,131.9 L911.6,134.0 L918.6,135.9 L925.6,137.3 L932.6,137.8 L939.6,137.8 L946.6,134.6 L953.6,135.6 L960.6,132.9 L967.6,131.9 L974.6,136.5" stroke="#808080" stroke-width="4.3" opacity="0.8"/>
<path d="M973.5,137.0 L980.5,133.5 L987.5,132.2 L994.5,129.5 L1001.5,134.3 L1008.5,135.4 L1015.5,142.7 L1022.5,140.9 L1029.5,139.1 L1036.5,135.3 L1043.5,134.8 L1050.5,128.9 L1057.5,130.6" stroke="#5a5a5a" stroke-width="3.9" opacity="0.8"/>
<path d="M1066.8,139.4 L1073.8,141.0 L1080.8,135.7 L1087.8,137.8 L1094.8,135.1 L1101.8,134.8 L1108.8,134.4 L1115.8,132.3 L1122.8,136.9 L1129.8,139.8 L1136.8,136.8 L1143.8,137.3 L1150.8,139.5 L1157.8,136.9 L1164.8,133.1" stroke="#808080" stroke-width="4.1" opacity="0.8"/>
<path d="M111.8,165.5 L118.8,168.4 L125.8,166.3 L132.8,162.8 L139.8,159.1 L146.8,159.1 L153.8,158.7 L160.8,156.6 L167.8,161.2 L174.8,163.3 L181.8,164.3 L188.8,168.5 L195.8,166.0 L202.8,165.7 L209.8,160.4 L216.8,160.5" stroke="#4e4e4e" stroke-width="4.4" opacity="0.8"/>
<path d="M246.1,164.3 L253.1,165.9 L260.1,166.9 L267.1,165.0 L274.1,163.9 L281.1,161.6 L288.1,157.1 L295.1,157.6 L302.1,158.7 L309.1,162.4 L316.1,166.1 L323.1,169.6 L330.1,167.6 L337.1,164.8 L344.1,158.5 L351.1,155.5" stroke="#808080" stroke-width="3.6" opacity="0.8"/>
<path d="M360.0,159.1 L367.0,157.9 L374.0,161.7 L381.0,167.8 L388.0,167.2 L395.0,162.0 L402.0,161.1 L409.0,157.2 L416.0,157.6 L423.0,159.6 L430.0,166.7 L437.0,165.2" stroke="#5a5a5a" stroke-width="4.4" opacity="0.8"/>
<path d="M442.8,159.8 L449.8,164.2 L456.8,164.7 L463.8,165.2 L470.8,165.2 L477.8,160.8 L484.8,159.9 L491.8,158.4 L498.8,161.5 L505.8,166.2 L512.8,165.2 L519.8,164.5 L526.8,162.7 L533.8,160.4 L540.8,158.8 L547.8,158.9" stroke="#6c6c6c" stroke-width="4.3" opacity="0.8"/>
<path d="M562.2,162.2 L569.2,156.0 L576.2,156.0 L583.2,158.5 L590.2,163.4 L597.2,166.2 L604.2,168.5 L611.2,165.4 L618.2,162.3 L625.2,160.6 L632.2,159.8 L639.2,156.0 L646.2,161.5 L653.2,163.6 L660.2,164.7 L667.2,169.0 L674.2,166.7" stroke="#4e4e4e" stroke-width="3.3" opacity="0.8"/>
<path d="M685.0,158.2 L692.0,162.5 L699.0,164.5 L706.0,167.1 L713.0,167.9 L720.0,164.7 L727.0,163.9 L734.0,160.9 L741.0,160.5 L748.0,155.6 L755.0,158.7 L762.0,162.2 L769.0,162.5 L776.0,168.5 L783.0,168.9 L790.0,164.6 L797.0,164.0 L804.0,160.6 L811.0,157.5" stroke="#808080" stroke-width="3.6" opacity="0.8"/>
<path d="M825.9,163.4 L832.9,163.4 L839.9,163.6 L846.9,165.4 L853.9,160.6 L860.9,158.7 L867.9,160.5 L874.9,161.8 L881.9,165.7 L888.9,165.0 L895.9,164.9 L902.9,162.3 L909.9,160.9 L916.9,159.8 L923.9,162.5 L930.9,165.8 L937.9,166.5 L944.9,162.9 L951.9,162.4 L958.9,158.2" stroke="#a8a8a8" stroke-width="3.6" opacity="0.8"/>
<path d="M983.3,162.4 L990.3,167.6 L997.3,165.4 L1004.3,163.8 L1011.3,160.9 L1018.3,158.5 L1025.3,157.3 L1032.3,158.6 L1039.3,159.7" stroke="#5a5a5a" stroke-width="4.0" opacity="0.8"/>
<path d="M1045.4,165.4 L1052.4,166.4 L1059.4,169.0 L1066.4,166.1 L1073.4,163.3 L1080.4,160.7 L1087.4,158.1 L1094.4,154.5 L1101.4,158.5" stroke="#4e4e4e" stroke-width="3.1" opacity="0.8"/>
<path d="M136.9,183.4 L143.9,182.2 L150.9,180.3 L157.9,186.2 L164.9,187.7 L171.9,191.8 L178.9,193.0 L185.9,191.2 L192.9,192.0 L199.9,185.9 L206.9,184.2" stroke="#808080" stroke-width="3.3" opacity="0.8"/>
<path d="M215.7,189.1 L222.7,188.9 L229.7,186.7 L236.7,186.2 L243.7,185.1 L250.7,185.2 L257.7,186.3 L264.7,189.3" stroke="#949494" stroke-width="4.4" opacity="0.8"/>
<path d="M271.1,191.8 L278.1,191.6 L285.1,190.3 L292.1,187.7 L299.1,184.6 L306.1,183.0 L313.1,183.3 L320.1,186.9 L327.1,186.3 L334.1,190.5 L341.1,191.1 L348.1,190.0 L355.1,188.2 L362.1,189.2" stroke="#5a5a5a" stroke-width="4.6" opacity="0.8"/>
<path d="M373.3,192.5 L380.3,187.4 L387.3,185.6 L394.3,186.8 L401.3,184.8 L408.3,183.1 L415.3,184.0 L422.3,189.6 L429.3,190.2 L436.3,189.4 L443.3,189.1 L450.3,187.7 L457.3,187.1 L464.3,184.3 L471.3,184.8" stroke="#5a5a5a" stroke-width="4.1" opacity="0.8"/>
<path d="M492.7,185.0 L499.7,187.0 L506.7,185.5 L513.7,189.1 L520.7,191.5 L527.7,188.1 L534.7,186.5 L541.7,188.7 L548.7,184.7 L555.7,183.9 L562.7,184.6 L569.7,190.4 L576.7,187.7 L583.7,189.4 L590.7,188.5 L597.7,187.4 L604.7,186.5 L611.7,183.9 L618.7,186.6 L625.7,186.8" stroke="#6c6c6c" stroke-width="3.8" opacity="0.8"/>
<path d="M651.0,189.3 L658.0,191.4 L665.0,192.6 L672.0,187.0 L679.0,184.8 L686.0,184.4 L693.0,186.3 L700.0,192.4 L707.0,192.8 L714.0,191.1 L721.0,186.5 L728.0,182.0 L735.0,182.9 L742.0,190.0 L749.0,191.0 L756.0,193.0" stroke="#949494" stroke-width="3.9" opacity="0.8"/>
<path d="M757.5,185.7 L764.5,186.9 L771.5,184.6 L778.5,186.5 L785.5,188.1 L792.5,189.8 L799.5,187.5 L806.5,185.9 L813.5,185.0 L820.5,185.8 L827.5,186.0 L834.5,187.7 L841.5,189.8 L848.5,189.3 L855.5,190.7 L862.5,187.2" stroke="#4e4e4e" stroke-width="3.2" opacity="0.8"/>
<path d="M885.8,185.9 L892.8,187.8 L899.8,192.3 L906.8,193.4 L913.8,193.0 L920.8,191.8 L927.8,187.5 L934.8,183.5 L941.8,181.6 L948.8,181.1 L955.8,182.5 L962.8,186.5 L969.8,188.3 L976.8,191.4 L983.8,193.6 L990.8,190.5" stroke="#5a5a5a" stroke-width="5.0" opacity="0.8"/>
<path d="M1009.1,183.3 L1016.1,183.7 L1023.1,186.0 L1030.1,193.2 L1037.1,195.1 L1044.1,190.6 L1051.1,182.9 L1058.1,180.5 L1065.1,186.8 L1072.1,189.2 L1079.1,194.5 L1086.1,189.5 L1093.1,186.6" stroke="#6c6c6c" stroke-width="3.4" opacity="0.8"/>
<path d="M103.9,214.9 L110.9,211.3 L117.9,210.2 L124.9,207.9 L131.9,201.0 L138.9,203.1 L145.9,207.5 L152.9,212.9 L159.9,215.5 L166.9,213.0 L173.9,212.5 L180.9,207.0 L187.9,201.5 L194.9,203.2" stroke="#949494" stroke-width="4.1" opacity="0.8"/>
<path d="M201.8,203.6 L208.8,205.9 L215.8,207.9 L222.8,208.2 L229.8,214.0 L236.8,209.8 L243.8,209.7 L250.8,205.7 L257.8,204.9 L264.8,204.4 L271.8,208.4 L278.8,211.7" stroke="#4e4e4e" stroke-width="4.7" opacity="0.8"/>
<path d="M310.0,210.7 L317.0,209.4 L324.0,206.8 L331.0,206.6 L338.0,203.3 L345.0,203.6 L352.0,204.6 L359.0,206.8 L366.0,209.1 L373.0,212.1" stroke="#a8a8a8" stroke-width="3.1" opacity="0.8"/>
<path d="M387.1,213.1 L394.1,209.5 L401.1,209.1 L408.1,205.8 L415.1,203.3 L422.1,206.0 L429.1,204.9 L436.1,209.1 L443.1,210.1 L450.1,209.8 L457.1,212.9 L464.1,212.4 L471.1,208.6 L478.1,204.3 L485.1,205.0 L492.1,202.9 L499.1,207.3" stroke="#4e4e4e" stroke-width="3.3" opacity="0.8"/>
<path d="M503.0,210.6 L510.0,213.4 L517.0,212.6 L524.0,212.4 L531.0,207.6 L538.0,206.8 L545.0,207.1 L552.0,205.3 L559.0,206.8 L566.0,209.1 L573.0,209.5 L580.0,209.6" stroke="#5a5a5a" stroke-width="4.7" opacity="0.8"/>
<path d="M605.0,210.1 L612.0,206.4 L619.0,205.3 L626.0,205.9 L633.0,207.2 L640.0,206.5 L647.0,211.1 L654.0,212.9 L661.0,210.4 L668.0,208.1 L675.0,206.3 L682.0,207.8 L689.0,205.8 L696.0,206.8" stroke="#949494" stroke-width="3.6" opacity="0.8"/>
<path d="M716.7,207.7 L723.7,202.3 L730.7,208.0 L737.7,208.8 L744.7,211.9 L751.7,212.9 L758.7,210.1 L765.7,206.8 L772.7,203.9 L779.7,205.4 L786.7,212.9 L793.7,212.9 L800.7,208.6 L807.7,205.3 L814.7,203.9" stroke="#5a5a5a" stroke-width="4.2" opacity="0.8"/>
<path d="M850.7,203.6 L857.7,203.2 L864.7,209.1 L871.7,210.4 L878.7,215.2 L885.7,212.5 L892.7,204.0 L899.7,204.1" stroke="#6c6c6c" stroke-width="4.9" opacity="0.8"/>
<path d="M915.6,204.8 L922.6,202.7 L929.6,209.2 L936.6,212.5 L943.6,212.9 L950.6,210.7 L957.6,207.6 L964.6,205.3 L971.6,203.5 L978.6,205.4 L985.6,209.1 L992.6,212.9 L999.6,213.7" stroke="#808080" stroke-width="4.4" opacity="0.8"/>
<path d="M1019.2,208.5 L1026.2,208.5 L1033.2,205.2 L1040.2,202.7 L1047.2,206.7 L1054.2,206.8 L1061.2,210.3 L1068.2,212.6" stroke="#808080" stroke-width="4.1" opacity="0.8"/>
<path d="M1097.3,212.4 L1104.3,213.7 L1111.3,209.4 L1118.3,206.6 L1125.3,205.3 L1132.3,201.2 L1139.3,203.0 L1146.3,206.6 L1153.3,207.9 L1160.3,211.5 L1167.3,212.5 L1174.3,212.7 L1181.3,211.4 L1188.3,205.0 L1195.3,205.2 L1202.3,201.7 L1209.3,204.1 L1216.3,207.0" stroke="#5a5a5a" stroke-width="4.4" opacity="0.8"/>
<path d="M110.7,230.9 L117.7,232.9 L124.7,234.2 L131.7,231.1 L138.7,228.6 L145.7,230.9 L152.7,232.3 L159.7,235.8 L166.7,236.1 L173.7,232.2 L180.7,227.8 L187.7,227.5" stroke="#6c6c6c" stroke-width="4.7" opacity="0.8"/>
<path d="M217.4,231.1 L224.4,233.0 L231.4,235.1 L238.4,235.5 L245.4,235.0 L252.4,234.6 L259.4,231.3 L266.4,231.3 L273.4,230.0 L280.4,228.0" stroke="#a8a8a8" stroke-width="4.1" opacity="0.8"/>
<path d="M300.9,230.9 L307.9,232.2 L314.9,234.9 L321.9,234.2 L328.9,233.4 L335.9,230.7 L342.9,230.3 L349.9,230.5 L356.9,226.8 L363.9,226.9 L370.9,229.4 L377.9,232.1 L384.9,233.3 L391.9,236.7 L398.9,235.9 L405.9,232.5 L412.9,232.5 L419.9,228.2" stroke="#4e4e4e" stroke-width="3.8" opacity="0.8"/>
<path d="M455.9,233.8 L462.9,235.6 L469.9,234.1 L476.9,230.0 L483.9,225.5 L490.9,226.6 L497.9,232.4 L504.9,235.8 L511.9,236.0 L518.9,233.9 L525.9,227.7 L532.9,226.4 L539.9,229.4 L546.9,233.5 L553.9,235.4 L560.9,233.3" stroke="#808080" stroke-width="4.7" opacity="0.8"/>
<path d="M588.5,228.5 L595.5,229.2 L602.5,235.3 L609.5,231.7 L616.5,231.6 L623.5,230.7 L630.5,229.1 L637.5,230.1 L644.5,231.6 L651.5,235.0 L658.5,234.2" stroke="#949494" stroke-width="4.7" opacity="0.8"/>
<path d="M688.9,234.4 L695.9,230.9 L702.9,230.4 L709.9,227.9 L716.9,230.9 L723.9,228.0 L730.9,229.4 L737.9,232.5 L744.9,234.9 L751.9,233.3 L758.9,231.3 L765.9,231.8 L772.9,228.5 L779.9,230.8 L786.9,231.7 L793.9,229.5 L800.9,232.4" stroke="#6c6c6c" stroke-width="3.4" opacity="0.8"/>
<path d="M816.3,230.7 L823.3,227.6 L830.3,226.7 L837.3,229.9 L844.3,233.1 L851.3,234.3 L858.3,237.3 L865.3,233.5 L872.3,230.5 L879.3,227.1 L886.3,225.1 L893.3,226.7 L900.3,232.6" stroke="#949494" stroke-width="4.3" opacity="0.8"/>
<path d="M938.1,225.1 L945.1,228.8 L952.1,232.8 L959.1,236.6 L966.1,237.2 L973.1,235.5 L980.1,235.3 L987.1,229.7 L994.1,228.3 L1001.1,226.2" stroke="#6c6c6c" stroke-width="3.3" opacity="0.8"/>
<path d="M1015.2,236.7 L1022.2,234.0 L1029.2,234.4 L1036.2,230.7 L1043.2,226.6 L1050.2,228.7 L1057.2,230.7 L1064.2,233.3 L1071.2,234.7 L1078.2,233.1 L1085.2,232.2 L1092.2,230.3 L1099.2,229.4 L1106.2,226.0 L1113.2,229.3 L1120.2,228.7" stroke="#808080" stroke-width="3.3" opacity="0.8"/>
<path d="M128.0,250.3 L135.0,253.2 L142.0,255.8 L149.0,256.5 L156.0,252.8 L163.0,252.6 L170.0,251.1 L177.0,252.0 L184.0,251.3 L191.0,250.0 L198.0,252.0 L205.0,254.3 L212.0,256.3 L219.0,255.4 L226.0,253.9 L233.0,253.6 L240.0,252.8 L247.0,250.6 L254.0,251.2 L261.0,251.7" stroke="#5a5a5a" stroke-width="4.4" opacity="0.8"/>
<path d="M288.6,255.9 L295.6,251.3 L302.6,249.3 L309.6,248.8 L316.6,249.5 L323.6,252.3 L330.6,251.9 L337.6,253.7 L344.6,256.5 L351.6,254.1 L358.6,251.4 L365.6,250.4 L372.6,249.0 L379.6,249.2" stroke="#949494" stroke-width="4.2" opacity="0.8"/>
<path d="M385.1,254.0 L392.1,249.8 L399.1,250.3 L406.1,251.8 L413.1,252.7 L420.1,254.9 L427.1,256.0 L434.1,252.7 L441.1,252.5 L448.1,250.6 L455.1,250.9 L462.1,251.4" stroke="#5a5a5a" stroke-width="4.4" opacity="0.8"/>
<path d="M499.1,255.1 L506.1,248.8 L513.1,247.7 L520.1,250.9 L527.1,251.1 L534.1,254.7 L541.1,256.7 L548.1,253.1 L555.1,249.3 L562.1,248.2 L569.1,248.6 L576.1,253.0 L583.1,255.3 L590.1,255.9" stroke="#4e4e4e" stroke-width="4.7" opacity="0.8"/>
<path d="M597.5,253.1 L604.5,254.5 L611.5,257.7 L618.5,255.8 L625.5,253.3 L632.5,249.5 L639.5,250.1 L646.5,247.3 L653.5,253.0 L660.5,255.9 L667.5,256.3" stroke="#808080" stroke-width="3.5" opacity="0.8"/>
<path d="M696.6,250.3 L703.6,249.2 L710.6,252.2 L717.6,253.4 L724.6,254.6 L731.6,252.9 L738.6,250.0 L745.6,248.7 L752.6,249.1 L759.6,253.4 L766.6,255.9 L773.6,253.7 L780.6,252.2 L787.6,250.0 L794.6,248.4 L801.6,248.7 L808.6,250.4 L815.6,250.9 L822.6,254.0" stroke="#4e4e4e" stroke-width="4.4" opacity="0.8"/>
<path d="M842.2,250.2 L849.2,251.2 L856.2,251.6 L863.2,253.4 L870.2,256.7 L877.2,253.4 L884.2,251.1 L891.2,249.0 L898.2,250.5 L905.2,249.2 L912.2,253.6 L919.2,254.5 L926.2,254.2 L933.2,253.4 L940.2,253.3 L947.2,253.6 L954.2,250.3 L961.2,249.0" stroke="#949494" stroke-width="5.0" opacity="0.8"/>
<path d="M975.4,249.0 L982.4,245.5 L989.4,247.1 L996.4,255.7 L1003.4,259.5 L1010.4,255.3 L1017.4,252.9 L1024.4,248.5 L1031.4,245.6 L1038.4,248.8 L1045.4,256.0 L1052.4,257.0 L1059.4,253.2 L1066.4,248.9 L1073.4,245.5" stroke="#4e4e4e" stroke-width="4.3" opacity="0.8"/>
<path d="M1086.3,255.6 L1093.3,259.0 L1100.3,255.8 L1107.3,254.7 L1114.3,250.3 L1121.3,246.4 L1128.3,250.6 L1135.3,252.1 L1142.3,257.8 L1149.3,256.5 L1156.3,256.1 L1163.3,248.1 L1170.3,248.7 L1177.3,248.6 L1184.3,250.4 L1191.3,254.4 L1198.3,259.4 L1205.3,254.6 L1212.3,250.8 L1219.3,248.3" stroke="#5a5a5a" stroke-width="3.8" opacity="0.8"/>
<path d="M100.9,277.0 L107.9,280.4 L114.9,280.2 L121.9,282.6 L128.9,282.0 L135.9,282.4 L142.9,279.8 L149.9,276.5 L156.9,272.4 L163.9,273.9 L170.9,274.0 L177.9,278.1 L184.9,280.6 L191.9,283.9 L198.9,281.3" stroke="#6c6c6c" stroke-width="4.8" opacity="0.8"/>
<path d="M223.6,284.0 L230.6,284.7 L237.6,279.5 L244.6,275.4 L251.6,273.9 L258.6,271.4 L265.6,274.2 L272.6,275.2 L279.6,280.4 L286.6,282.5 L293.6,282.7 L300.6,282.2 L307.6,279.3 L314.6,272.5 L321.6,270.7 L328.6,272.5" stroke="#808080" stroke-width="4.9" opacity="0.8"/>
<path d="M356.7,279.1 L363.7,280.6 L370.7,279.7 L377.7,276.6 L384.7,276.4 L391.7,276.0 L398.7,280.8 L405.7,280.1" stroke="#6c6c6c" stroke-width="4.8" opacity="0.8"/>
<path d="M405.3,280.7 L412.3,275.0 L419.3,274.5 L426.3,274.1 L433.3,278.3 L440.3,282.2 L447.3,279.4 L454.3,278.6 L461.3,278.2 L468.3,275.5" stroke="#949494" stroke-width="3.3" opacity="0.8"/>
<path d="M481.8,280.8 L488.8,279.8 L495.8,281.8 L502.8,281.5 L509.8,279.0 L516.8,275.0 L523.8,275.6 L530.8,276.2 L537.8,277.3 L544.8,280.2 L551.8,283.1 L558.8,281.2 L565.8,280.5 L572.8,279.9 L579.8,274.9 L586.8,276.6" stroke="#6c6c6c" stroke-width="5.0" opacity="0.8"/>
<path d="M591.6,273.3 L598.6,273.1 L605.6,275.9 L612.6,278.0 L619.6,283.8 L626.6,282.7 L633.6,281.4 L640.6,277.5" stroke="#6c6c6c" stroke-width="4.0" opacity="0.8"/>
<path d="M650.4,277.4 L657.4,275.7 L664.4,279.6 L671.4,281.7 L678.4,281.9 L685.4,278.2 L692.4,277.0 L699.4,274.7 L706.4,273.4 L713.4,275.7 L720.4,277.3 L727.4,281.6 L734.4,282.1 L741.4,280.9 L748.4,276.5 L755.4,275.5 L762.4,277.5 L769.4,274.8" stroke="#808080" stroke-width="4.9" opacity="0.8"/>
<path d="M794.6,277.8 L801.6,274.7 L808.6,274.2 L815.6,273.3 L822.6,275.2 L829.6,280.7 L836.6,281.1 L843.6,285.3 L850.6,285.4" stroke="#5a5a5a" stroke-width="4.4" opacity="0.8"/>
<path d="M886.5,273.6 L893.5,276.7 L900.5,280.1 L907.5,282.8 L914.5,284.9 L921.5,279.6 L928.5,279.1 L935.5,275.7 L942.5,271.4 L949.5,275.5 L956.5,278.4" stroke="#808080" stroke-width="4.3" opacity="0.8"/>
<path d="M988.0,275.8 L995.0,275.4 L1002.0,275.5 L1009.0,276.0 L1016.0,277.4 L1023.0,279.2 L1030.0,280.3 L1037.0,281.8 L1044.0,278.9 L1051.0,278.2 L1058.0,274.2 L1065.0,273.6" stroke="#a8a8a8" stroke-width="3.7" opacity="0.8"/>
<path d="M1072.1,279.8 L1079.1,277.3 L1086.1,273.5 L1093.1,275.6 L1100.1,272.8 L1107.1,274.2 L1114.1,280.3 L1121.1,280.5 L1128.1,281.7 L1135.1,283.6 L1142.1,282.5 L1149.1,277.6 L1156.1,276.5" stroke="#6c6c6c" stroke-width="4.7" opacity="0.8"/>
<path d="M124.3,298.2 L131.3,292.7 L138.3,295.3 L145.3,297.6 L152.3,301.2 L159.3,302.5 L166.3,301.4 L173.3,299.2 L180.3,295.6" stroke="#6c6c6c" stroke-width="4.6" opacity="0.8"/>
<path d="M196.5,296.3 L203.5,299.6 L210.5,303.0 L217.5,302.3 L224.5,296.2 L231.5,293.2 L238.5,296.0 L245.5,299.2 L252.5,303.7 L259.5,302.7 L266.5,299.8 L273.5,295.0 L280.5,295.8 L287.5,298.7 L294.5,302.0 L301.5,300.8" stroke="#808080" stroke-width="4.3" opacity="0.8"/>
<path d="M323.5,297.2 L330.5,302.4 L337.5,300.7 L344.5,303.7 L351.5,300.7 L358.5,297.9 L365.5,293.6 L372.5,295.6 L379.5,294.2 L386.5,296.4 L393.5,299.5 L400.5,302.9 L407.5,300.9 L414.5,303.0 L421.5,300.0 L428.5,298.1 L435.5,293.4 L442.5,295.9 L449.5,296.1" stroke="#4e4e4e" stroke-width="3.9" opacity="0.8"/>
<path d="M460.4,296.9 L467.4,296.0 L474.4,295.5 L481.4,298.1 L488.4,300.1 L495.4,299.9 L502.4,302.2 L509.4,298.4 L516.4,294.5 L523.4,294.5 L530.4,293.6 L537.4,296.0 L544.4,301.1 L551.4,300.3 L558.4,299.4 L565.4,300.1 L572.4,294.4 L579.4,295.9 L586.4,294.3 L593.4,297.0" stroke="#5a5a5a" stroke-width="4.3" opacity="0.8"/>
<path d="M599.9,292.5 L606.9,297.8 L613.9,301.3 L620.9,304.7 L627.9,300.3 L634.9,297.2 L641.9,293.5 L648.9,292.9 L655.9,296.0" stroke="#5a5a5a" stroke-width="3.3" opacity="0.8"/>
<path d="M662.2,293.1 L669.2,294.0 L676.2,296.6 L683.2,302.9 L690.2,302.4 L697.2,302.1 L704.2,297.3 L711.2,294.5 L718.2,295.3 L725.2,297.4" stroke="#6c6c6c" stroke-width="3.4" opacity="0.8"/>
<path d="M741.5,294.7 L748.5,295.7 L755.5,300.4 L762.5,301.7 L769.5,301.7 L776.5,303.1 L783.5,298.7 L790.5,294.8 L797.5,291.5 L804.5,296.0 L811.5,299.8 L818.5,302.2 L825.5,305.1 L832.5,304.4 L839.5,301.4 L846.5,298.3 L853.5,291.6 L860.5,291.2" stroke="#808080" stroke-width="4.3" opacity="0.8"/>
<path d="M869.2,296.4 L876.2,302.6 L883.2,303.1 L890.2,302.6 L897.2,298.7 L904.2,294.0 L911.2,295.2 L918.2,298.3 L925.2,303.7 L932.2,304.0 L939.2,299.1 L946.2,293.8 L953.2,294.4 L960.2,299.4 L967.2,302.1" stroke="#949494" stroke-width="3.0" opacity="0.8"/>
<path d="M976.1,300.8 L983.1,297.6 L990.1,295.6 L997.1,290.9 L1004.1,291.7 L1011.1,296.9 L1018.1,301.1 L1025.1,300.7 L1032.1,303.9 L1039.1,301.4 L1046.1,302.9 L1053.1,299.1 L1060.1,292.2 L1067.1,294.8 L1074.1,294.7 L1081.1,293.6 L1088.1,298.2" stroke="#a8a8a8" stroke-width="4.4" opacity="0.8"/>
<path d="M1101.9,297.9 L1108.9,293.0 L1115.9,294.5 L1122.9,297.1 L1129.9,302.4 L1136.9,304.9 L1143.9,300.7 L1150.9,298.0 L1157.9,296.6 L1164.9,294.2 L1171.9,296.4 L1178.9,301.6 L1185.9,302.2 L1192.9,304.5 L1199.9,300.0 L1206.9,296.7" stroke="#808080" stroke-width="4.2" opacity="0.8"/>
<path d="M100.1,323.4 L107.1,322.5 L114.1,318.3 L121.1,316.5 L128.1,314.2 L135.1,318.9 L142.1,320.9 L149.1,325.0 L156.1,324.5 L163.1,324.3 L170.1,320.4 L177.1,316.4 L184.1,316.3 L191.1,314.8" stroke="#4e4e4e" stroke-width="3.6" opacity="0.8"/>
<path d="M211.5,313.9 L218.5,317.9 L225.5,322.7 L232.5,326.5 L239.5,320.9 L246.5,318.6 L253.5,314.3 L260.5,316.6 L267.5,323.5 L274.5,324.1 L281.5,325.9 L288.5,317.5 L295.5,316.3 L302.5,315.3 L309.5,322.6 L316.5,323.9 L323.5,323.7 L330.5,320.4" stroke="#a8a8a8" stroke-width="3.6" opacity="0.8"/>
<path d="M351.2,322.0 L358.2,322.3 L365.2,327.8 L372.2,325.9 L379.2,324.7 L386.2,321.2 L393.2,316.3 L400.2,316.7 L407.2,317.8 L414.2,318.9 L421.2,322.2 L428.2,323.5 L435.2,326.3 L442.2,322.7 L449.2,318.6 L456.2,318.7" stroke="#949494" stroke-width="4.6" opacity="0.8"/>
<path d="M485.1,321.7 L492.1,323.3 L499.1,322.4 L506.1,320.9 L513.1,319.4 L520.1,317.4 L527.1,319.9 L534.1,317.8 L541.1,322.0 L548.1,321.6 L555.1,324.3 L562.1,321.3 L569.1,316.6 L576.1,315.4 L583.1,318.7 L590.1,318.9 L597.1,323.1" stroke="#949494" stroke-width="3.8" opacity="0.8"/>
<path d="M603.4,320.0 L610.4,319.0 L617.4,315.6 L624.4,318.5 L631.4,321.9 L638.4,321.7 L645.4,322.1 L652.4,324.0 L659.4,322.7 L666.4,318.8 L673.4,319.2" stroke="#6c6c6c" stroke-width="4.5" opacity="0.8"/>
<path d="M700.1,317.1 L707.1,315.6 L714.1,318.1 L721.1,316.4 L728.1,318.6 L735.1,323.9 L742.1,322.0 L749.1,324.2 L756.1,322.6 L763.1,319.9 L770.1,320.2 L777.1,319.1 L784.1,316.9 L791.1,317.8 L798.1,318.5 L805.1,319.5 L812.1,324.0 L819.1,323.0 L826.1,323.8" stroke="#a8a8a8" stroke-width="3.8" opacity="0.8"/>
<path d="M833.9,318.4 L840.9,314.0 L847.9,316.1 L854.9,319.3 L861.9,321.9 L868.9,322.1 L875.9,324.5 L882.9,323.2 L889.9,323.9 L896.9,320.3 L903.9,315.1 L910.9,316.3 L917.9,314.3 L924.9,319.0 L931.9,322.6 L938.9,321.8 L945.9,326.9 L952.9,323.7 L959.9,323.5" stroke="#a8a8a8" stroke-width="4.2" opacity="0.8"/>
<path d="M965.3,317.1 L972.3,314.4 L979.3,320.4 L986.3,323.9 L993.3,323.7 L1000.3,324.4 L1007.3,320.2 L1014.3,314.7 L1021.3,313.0 L1028.3,316.0 L1035.3,321.7 L1042.3,324.1 L1049.3,325.3 L1056.3,321.9 L1063.3,317.6 L1070.3,317.0 L1077.3,317.0 L1084.3,320.0" stroke="#4e4e4e" stroke-width="3.1" opacity="0.8"/>
<path d="M1103.9,322.2 L1110.9,324.9 L1117.9,320.5 L1124.9,318.2 L1131.9,316.8 L1138.9,317.5 L1145.9,320.5 L1152.9,321.9 L1159.9,322.8 L1166.9,324.0 L1173.9,322.1 L1180.9,323.0 L1187.9,319.3" stroke="#808080" stroke-width="3.4" opacity="0.8"/>
<path d="M104.8,339.6 L111.8,340.6 L118.8,338.9 L125.8,343.0 L132.8,343.7 L139.8,344.4 L146.8,348.7 L153.8,344.5 L160.8,343.4 L167.8,339.8 L174.8,339.6 L181.8,340.2 L188.8,340.4 L195.8,343.4 L202.8,344.0 L209.8,345.7 L216.8,345.5" stroke="#949494" stroke-width="3.1" opacity="0.8"/>
<path d="M244.9,342.9 L251.9,339.7 L258.9,340.3 L265.9,342.8 L272.9,344.9 L279.9,345.5 L286.9,348.0 L293.9,344.9 L300.9,345.4" stroke="#4e4e4e" stroke-width="4.1" opacity="0.8"/>
<path d="M324.5,342.2 L331.5,346.2 L338.5,348.8 L345.5,346.9 L352.5,345.3 L359.5,341.4 L366.5,339.1 L373.5,338.1 L380.5,336.8 L387.5,341.4 L394.5,344.4" stroke="#a8a8a8" stroke-width="3.4" opacity="0.8"/>
<path d="M416.6,341.0 L423.6,339.6 L430.6,339.0 L437.6,338.3 L444.6,343.3 L451.6,345.3 L458.6,345.6 L465.6,348.8 L472.6,346.7 L479.6,343.6 L486.6,341.1 L493.6,339.9 L500.6,337.4 L507.6,340.3" stroke="#808080" stroke-width="3.9" opacity="0.8"/>
<path d="M528.9,342.7 L535.9,339.0 L542.9,339.4 L549.9,337.5 L556.9,342.1 L563.9,343.2 L570.9,345.0 L577.9,348.2 L584.9,343.5 L591.9,344.0 L598.9,341.2 L605.9,340.8 L612.9,341.5 L619.9,344.4" stroke="#808080" stroke-width="4.8" opacity="0.8"/>
<path d="M633.4,338.9 L640.4,339.8 L647.4,338.4 L654.4,344.5 L661.4,343.6 L668.4,347.9 L675.4,348.8 L682.4,344.8 L689.4,343.0 L696.4,341.3 L703.4,337.3 L710.4,340.0 L717.4,339.9 L724.4,339.9 L731.4,346.1" stroke="#949494" stroke-width="4.7" opacity="0.8"/>
<path d="M744.9,345.1 L751.9,345.3 L758.9,346.8 L765.9,345.3 L772.9,344.8 L779.9,339.7 L786.9,339.9 L793.9,339.8 L800.9,339.1 L807.9,341.5 L814.9,344.3 L821.9,348.5 L828.9,346.9 L835.9,343.8 L842.9,341.5 L849.9,341.4 L856.9,338.2 L863.9,340.4 L870.9,342.2 L877.9,344.3" stroke="#4e4e4e" stroke-width="3.7" opacity="0.8"/>
<path d="M880.2,346.6 L887.2,347.1 L894.2,345.5 L901.2,343.9 L908.2,340.4 L915.2,339.9 L922.2,340.4 L929.2,342.1 L936.2,343.2 L943.2,344.2 L950.2,344.0 L957.2,347.4 L964.2,345.7 L971.2,344.2 L978.2,341.3 L985.2,337.8 L992.2,341.1 L999.2,339.8 L1006.2,341.7" stroke="#a8a8a8" stroke-width="4.5" opacity="0.8"/>
<path d="M1015.1,343.1 L1022.1,342.4 L1029.1,343.1 L1036.1,346.6 L1043.1,346.9 L1050.1,342.3 L1057.1,339.5 L1064.1,341.1 L1071.1,341.8 L1078.1,342.0" stroke="#a8a8a8" stroke-width="3.2" opacity="0.8"/>
<path d="M1088.6,343.3 L1095.6,339.1 L1102.6,340.0 L1109.6,344.4 L1116.6,348.4 L1123.6,345.5 L1130.6,341.5 L1137.6,339.7 L1144.6,338.4 L1151.6,343.3 L1158.6,347.4 L1165.6,344.8 L1172.6,341.6 L1179.6,339.8" stroke="#949494" stroke-width="4.9" opacity="0.8"/>
<path d="M131.8,372.5 L138.8,374.6 L145.8,372.9 L152.8,368.4 L159.8,366.3 L166.8,366.3 L173.8,369.0 L180.8,374.0 L187.8,375.1 L194.8,372.8 L201.8,366.3 L208.8,364.0 L215.8,364.1 L222.8,368.3 L229.8,371.6" stroke="#a8a8a8" stroke-width="3.3" opacity="0.8"/>
<path d="M245.3,370.7 L252.3,368.1 L259.3,368.1 L266.3,367.5 L273.3,368.8 L280.3,369.2 L287.3,369.9 L294.3,374.7 L301.3,370.9 L308.3,369.9 L315.3,369.6" stroke="#949494" stroke-width="3.4" opacity="0.8"/>
<path d="M334.5,366.4 L341.5,368.2 L348.5,373.5 L355.5,372.1 L362.5,370.1 L369.5,370.0 L376.5,367.3 L383.5,366.6 L390.5,364.7 L397.5,365.7 L404.5,370.0 L411.5,369.7 L418.5,372.2 L425.5,370.3 L432.5,371.3 L439.5,371.2 L446.5,368.9" stroke="#6c6c6c" stroke-width="4.0" opacity="0.8"/>
<path d="M453.4,365.7 L460.4,370.1 L467.4,375.2 L474.4,371.3 L481.4,369.3 L488.4,367.2 L495.4,365.7 L502.4,366.4 L509.4,371.2 L516.4,374.8 L523.4,376.0" stroke="#949494" stroke-width="4.2" opacity="0.8"/>
<path d="M530.1,370.5 L537.1,369.3 L544.1,369.0 L551.1,366.6 L558.1,367.6 L565.1,368.7 L572.1,372.7 L579.1,371.3 L586.1,370.3 L593.1,367.4 L600.1,365.4 L607.1,368.6 L614.1,367.7 L621.1,372.8 L628.1,373.8" stroke="#4e4e4e" stroke-width="4.5" opacity="0.8"/>
<path d="M644.6,371.0 L651.6,374.0 L658.6,368.8 L665.6,365.1 L672.6,365.4 L679.6,367.7 L686.6,368.2 L693.6,374.9 L700.6,375.4 L707.6,371.4 L714.6,367.7 L721.6,363.1 L728.6,364.4 L735.6,371.4 L742.6,374.7 L749.6,373.2" stroke="#6c6c6c" stroke-width="3.8" opacity="0.8"/>
<path d="M761.6,362.6 L768.6,367.0 L775.6,366.5 L782.6,368.4 L789.6,372.6 L796.6,372.7 L803.6,375.1 L810.6,369.8 L817.6,367.5 L824.6,366.3 L831.6,362.9 L838.6,364.8 L845.6,368.9 L852.6,369.1 L859.6,371.5 L866.6,375.2" stroke="#808080" stroke-width="3.9" opacity="0.8"/>
<path d="M889.7,366.2 L896.7,362.9 L903.7,365.8 L910.7,367.0 L917.7,372.0 L924.7,373.7 L931.7,371.5 L938.7,370.7 L945.7,368.8 L952.7,364.7 L959.7,367.0 L966.7,366.8 L973.7,369.8 L980.7,373.0" stroke="#808080" stroke-width="4.2" opacity="0.8"/>
<path d="M1011.4,375.0 L1018.4,368.9 L1025.4,367.8 L1032.4,363.2 L1039.4,365.9 L1046.4,371.4 L1053.4,376.0 L1060.4,370.2 L1067.4,368.2 L1074.4,364.9 L1081.4,364.5 L1088.4,372.8 L1095.4,376.4 L1102.4,375.2 L1109.4,369.1 L1116.4,366.2" stroke="#5a5a5a" stroke-width="4.8" opacity="0.8"/>
</g></g>
<polygon points="600,383 1100,31 1740,33 1240,383" fill="url(#grass)" filter="url(#gblur)"/>
<line x1="600" y1="383" x2="1100" y2="31" stroke="#333" stroke-width="1.5"/>
<g transform="translate(588.6,212.8) rotate(-36)"><rect x="-138" y="-46" width="276" height="92" rx="42" fill="#fdfdfd"/></g>
<g transform="translate(588.6,212.8) rotate(-36)"><text x="-115.9" y="24.6" font-size="77" fill="#000">SNOW</text></g>
<g fill="none" stroke="#8f7b63" stroke-width="3.3" stroke-linecap="round" stroke-linejoin="round">
<path d="M882.6,386.5 C882.6,397.0 884.8,434.4 882.6,449.3 C880.4,464.2 879.0,460.8 869.4,475.7 C859.8,490.6 832.2,528.0 824.8,538.5"/>
<path d="M882.6,449.3 C883.0,456.4 886.3,480.4 885.2,492.2 C884.1,504.0 879.2,509.8 876.0,520.0 C872.8,530.2 867.7,547.8 866.0,553.4"/>
<path d="M885.2,492.2 C888.5,499.0 895.5,519.0 905.0,533.0 C914.5,547.0 935.8,569.2 942.0,576.5"/>
<path d="M882.6,449.3 C886.0,453.8 894.5,468.0 903.0,476.0 C911.5,484.0 928.7,493.7 933.8,497.2"/>
<path d="M976.8,386.5 C976.8,394.8 979.3,424.2 976.8,436.0 C974.3,447.8 966.4,450.1 962.0,457.0 C957.6,463.9 952.2,474.0 950.3,477.4"/>
<path d="M976.8,436.0 C980.4,439.6 994.6,454.0 998.2,457.6"/>
<path d="M976.8,436.0 C977.1,439.9 979.8,450.9 978.4,459.2 C977.0,467.5 970.1,481.2 968.5,485.6"/>
<path d="M978.4,459.2 C982.2,465.2 997.6,489.4 1001.5,495.5"/>
<path d="M1031.3,386.5 C1031.6,399.7 1032.7,446.0 1033.0,465.8 C1033.3,485.6 1032.7,489.0 1033.0,505.5 C1033.3,522.0 1034.5,532.6 1034.6,565.0 C1034.7,597.4 1033.8,653.8 1033.5,700.0 C1033.2,746.2 1033.1,818.8 1033.0,842.5"/>
<path d="M1033.0,842.5 C1031.2,848.8 1027.5,863.8 1022.0,880.0 C1016.5,896.2 1006.7,924.2 1000.0,940.0 C993.3,955.8 984.8,968.8 981.7,974.6"/>
<path d="M1033.0,842.5 C1033.8,851.2 1034.8,877.9 1038.0,895.0 C1041.2,912.1 1045.7,932.3 1052.0,945.0 C1058.3,957.7 1071.9,966.9 1075.9,971.3"/>
<path d="M1033.0,476.0 C1037.0,484.2 1047.9,508.5 1057.0,525.0 C1066.1,541.5 1076.0,555.5 1087.4,574.8 C1098.8,594.1 1105.9,617.0 1125.4,641.0 C1145.0,665.0 1191.5,705.7 1204.7,718.6"/>
<path d="M1125.4,641.0 C1128.4,658.9 1140.6,730.4 1143.6,748.3"/>
<path d="M1033.0,512.0 C1029.5,518.0 1020.5,536.4 1012.0,548.0 C1003.5,559.6 991.2,569.9 981.7,581.5 C972.2,593.1 961.6,605.7 955.3,617.8 C949.0,629.9 946.8,640.3 943.7,654.0 C940.7,667.7 938.6,683.2 937.0,700.0 C935.4,716.8 934.3,745.8 933.8,754.9"/>
<path d="M981.7,581.5 C981.9,588.6 984.4,605.1 983.0,624.4 C981.6,643.6 975.1,684.9 973.5,697.0"/>
<path d="M1034.0,570.0 C1030.7,578.3 1019.4,605.4 1014.0,620.0 C1008.6,634.6 1005.8,639.1 1001.5,657.4 C997.2,675.7 993.5,706.2 988.3,730.0 C983.0,753.8 979.1,772.5 970.0,800.0 C960.9,827.5 939.8,879.4 933.8,895.3"/>
<path d="M1034.6,565.0 C1039.2,572.8 1051.1,594.2 1062.0,612.0 C1072.9,629.8 1093.1,651.8 1100.0,672.0 C1106.9,692.2 1102.8,723.2 1103.3,733.4"/>
<path d="M1125.4,386.5 C1125.4,393.4 1129.8,415.1 1125.4,427.8 C1121.0,440.5 1107.2,452.9 1099.0,462.5 C1090.8,472.1 1079.8,481.8 1075.9,485.6"/>
<path d="M1099.0,462.5 C1099.4,465.8 1100.9,479.0 1101.3,482.3"/>
<path d="M1125.4,427.8 C1126.0,430.8 1125.4,439.7 1128.7,446.0 C1132.0,452.3 1142.5,462.5 1145.3,465.8"/>
<path d="M1128.7,446.0 C1127.0,450.7 1123.2,465.5 1118.8,474.0 C1114.4,482.5 1105.0,493.3 1102.3,497.2"/>
<path d="M1118.8,474.0 C1121.5,478.7 1132.5,497.5 1135.3,502.2"/>
<path d="M1136.0,452.0 C1135.9,457.9 1135.4,481.4 1135.3,487.3"/>
<path d="M1163.4,386.5 C1163.4,398.1 1166.0,436.2 1163.4,456.0 C1160.8,475.8 1153.0,488.8 1148.0,505.0 C1143.0,521.2 1136.1,545.3 1133.7,553.4"/>
<path d="M1163.4,456.0 C1165.3,460.0 1170.6,471.8 1175.0,480.0 C1179.4,488.2 1187.4,501.2 1189.9,505.5"/>
<path d="M1163.4,456.0 C1163.7,464.8 1165.9,494.8 1165.0,508.8 C1164.1,522.8 1159.8,529.5 1158.0,540.0 C1156.2,550.5 1154.8,566.2 1154.2,571.5"/>
<path d="M1165.0,508.8 C1167.2,515.7 1173.2,535.4 1178.0,550.0 C1182.8,564.6 1191.2,588.6 1193.8,596.3"/>
<path d="M1295.0,350.6 C1295.0,360.7 1297.8,391.4 1295.0,411.3 C1292.2,431.2 1283.7,450.7 1278.0,470.0 C1272.3,489.3 1263.7,517.8 1260.8,527.3"/>
<path d="M1295.0,411.3 C1295.2,420.1 1297.3,448.4 1296.5,464.0 C1295.7,479.6 1291.9,490.9 1290.0,505.0 C1288.1,519.1 1285.8,541.2 1285.0,548.4"/>
<path d="M1296.5,464.0 C1298.8,473.3 1304.7,501.6 1310.0,520.0 C1315.3,538.5 1325.2,565.6 1328.3,574.7"/>
<path d="M1295.0,420.0 C1297.2,425.0 1303.2,440.5 1308.0,450.0 C1312.8,459.5 1321.3,472.7 1324.0,477.2"/>
<path d="M1365.2,303.2 C1365.3,313.3 1370.2,346.8 1366.0,363.8 C1361.8,380.8 1348.3,390.9 1340.0,405.0 C1331.7,419.1 1320.0,441.0 1316.0,448.2"/>
<path d="M1366.0,363.8 C1370.0,367.8 1382.7,381.0 1390.0,388.0 C1397.3,395.0 1406.7,403.0 1410.0,406.0"/>
<path d="M1366.0,363.8 C1366.3,369.9 1369.3,389.7 1368.0,400.7 C1366.7,411.7 1360.8,419.4 1358.0,430.0 C1355.2,440.6 1352.2,458.3 1351.0,464.0"/>
<path d="M1368.0,400.7 C1371.7,407.2 1381.8,425.9 1390.0,440.0 C1398.2,454.1 1412.4,477.5 1416.9,485.0"/>
</g>
<polyline points="173.6,822.6 245.3,842.0 421.6,830.4 518.5,878.8 580.5,995.0 679.4,1034.0 745.3,1002.9 882.9,853.6 1197.8,828.8 1240.0,766.0" fill="none" stroke="#000" stroke-width="3" stroke-dasharray="7 6.5"/>
<polyline points="1240.0,766.0 1317.7,659.0 1375.7,669.6 1436.4,627.5 1505.0,622.0 1668.4,495.6 1737.0,309.0" fill="none" stroke="#000" stroke-width="3" stroke-dasharray="7 6.5"/>
<polyline points="170.0,1262.0 208.8,1255.6 250.6,1239.6 311.6,1176.4 419.8,1196.8 560.0,1268.0 674.7,1308.0 830.6,1259.4 918.0,1212.3 995.5,1202.2 1069.5,1244.2 1179.0,1286.3 1240.0,1266.0" fill="none" stroke="#000" stroke-width="3.8" stroke-linejoin="miter"/>
<polyline points="1240.0,1266.0 1322.6,1288.2 1400.3,1213.8 1441.6,1106.4 1539.0,1053.5 1570.5,992.3 1577.0,893.2 1671.3,851.9 1740.0,714.0" fill="none" stroke="#000" stroke-width="3.8"/>
<polyline points="212,1266 1240,1266 1740,918" fill="none" stroke="#dc0000" stroke-width="7.2"/>
<polyline points="426,1972.3 1240,1972.3 1740,1627" fill="none" stroke="#dc0000" stroke-width="7"/>
<g stroke="#000" stroke-width="7" fill="none" stroke-linecap="butt">
<line x1="169.5" y1="238" x2="169.5" y2="1975.5"/>
<line x1="166" y1="383.5" x2="1244" y2="383.5"/>
<line x1="171" y1="380" x2="666" y2="30"/>
<line x1="661" y1="32" x2="1745" y2="32"/>
<line x1="1238" y1="386" x2="1741" y2="34"/>
<line x1="1240.5" y1="380" x2="1240.5" y2="1970" stroke-width="8"/>
</g>
<line x1="1741" y1="29" x2="1741" y2="1630" stroke="#000" stroke-width="8.5"/>
<path d="M1300.9,72.3 L1303.2,68.2 L1300.7,65.0 L1302.7,61.1 L1300.3,57.6 L1303.7,54.6 L1303.1,51.4 L1306.3,48.7 L1307.4,44.9 L1312.0,42.1 L1313.4,39.7 L1318.7,39.4 L1319.8,36.6 L1325.4,37.6 L1327.5,35.9 L1328.7,33.7 L1327.3,28.8 L1331.3,27.0 L1333.2,21.8 L1337.0,21.1 L1339.4,17.1 L1343.1,18.0 L1346.0,15.1 L1349.3,16.6 L1352.5,15.3 L1355.8,18.4 L1359.6,17.7 L1360.8,23.5 L1363.1,25.4 L1366.6,26.0 L1371.2,24.1 L1372.7,29.0 L1376.6,30.8 L1377.6,35.8 L1379.5,38.6 L1378.6,43.4 L1383.5,42.9 L1384.9,44.0 L1388.5,47.6 L1388.4,52.2 L1393.3,55.6 L1394.5,59.2 L1395.3,65.6 L1396.4,66.6 L1401.3,68.3 L1396.8,71.7 L1396.7,76.4 L1391.1,75.9 L1389.8,77.2 L1384.7,76.6 L1383.2,78.0 L1377.9,77.1 L1376.8,79.1 L1372.0,78.0 L1369.5,78.9 L1365.2,77.7 L1363.1,79.9 L1358.9,78.2 L1356.1,79.9 L1352.4,78.4 L1348.8,80.2 L1345.5,79.2 L1341.5,81.0 L1338.7,79.9 L1333.9,82.3 L1331.9,79.9 L1327.0,80.7 L1324.9,78.9 L1320.1,79.4 L1318.0,77.9 L1313.0,78.1 L1311.8,76.4 L1307.0,76.3 L1305.3,75.0Z" fill="#075707" stroke="#0c140c" stroke-width="2" stroke-linejoin="round"/>
<path d="M1329.1,35.7 L1333.2,31.6 L1336.6,28.8 L1340.7,32.2 L1345.5,34.3" fill="none" stroke="#0d1a0d" stroke-width="1.5" stroke-linejoin="round"/>
<path d="M1357.6,43.2 L1362.1,38.6 L1365.9,35.6 L1370.5,39.4 L1375.8,41.7" fill="none" stroke="#0d1a0d" stroke-width="1.5" stroke-linejoin="round"/>
<path d="M1311.4,51.5 L1315.0,47.9 L1318.1,45.5 L1321.7,48.5 L1326.0,50.3" fill="none" stroke="#0d1a0d" stroke-width="1.5" stroke-linejoin="round"/>
<path d="M1336.1,55.9 L1341.1,50.9 L1345.3,47.6 L1350.3,51.8 L1356.1,54.3" fill="none" stroke="#0d1a0d" stroke-width="1.5" stroke-linejoin="round"/>
<path d="M1335.1,73.5 L1340.1,68.5 L1344.3,65.1 L1349.3,69.3 L1355.1,71.8" fill="none" stroke="#0d1a0d" stroke-width="1.5" stroke-linejoin="round"/>
<path d="M1372.3,69.6 L1377.3,64.6 L1381.5,61.2 L1386.5,65.4 L1392.4,67.9" fill="none" stroke="#0d1a0d" stroke-width="1.5" stroke-linejoin="round"/>
<path d="M1050.1,87.6 L1052.0,83.9 L1049.9,80.7 L1052.2,77.2 L1049.6,73.9 L1052.9,71.0 L1052.8,68.0 L1056.2,65.4 L1057.3,63.1 L1061.9,61.4 L1062.7,58.8 L1067.4,58.2 L1069.0,56.6 L1073.9,56.2 L1075.4,54.4 L1080.0,54.9 L1082.0,53.9 L1087.0,54.8 L1084.8,50.1 L1086.0,47.9 L1087.1,44.4 L1091.2,44.0 L1092.6,40.2 L1097.6,39.8 L1100.7,35.6 L1105.7,36.7 L1109.5,33.4 L1114.0,35.8 L1118.2,34.1 L1122.6,37.2 L1127.7,36.0 L1129.3,41.6 L1132.4,43.4 L1135.0,44.6 L1139.6,42.5 L1141.8,43.8 L1145.8,44.6 L1146.8,48.4 L1150.6,49.9 L1151.6,53.3 L1154.3,56.0 L1153.1,60.4 L1159.4,60.0 L1161.8,60.9 L1165.9,64.5 L1166.4,68.7 L1171.3,70.8 L1171.9,73.2 L1176.0,75.4 L1172.6,81.1 L1179.0,82.6 L1180.7,83.6 L1180.1,86.3 L1176.3,88.4 L1175.9,91.3 L1171.4,91.2 L1169.4,91.9 L1164.5,91.6 L1162.7,92.4 L1158.3,92.2 L1156.5,93.2 L1151.2,92.4 L1150.0,93.8 L1145.1,93.0 L1143.0,94.0 L1138.2,93.0 L1136.3,94.6 L1131.4,93.0 L1129.1,94.7 L1124.8,93.4 L1121.9,95.1 L1118.1,93.2 L1114.7,95.2 L1111.6,93.9 L1107.5,96.1 L1104.9,94.6 L1100.8,96.2 L1098.5,95.0 L1093.7,96.8 L1092.1,94.9 L1086.9,96.0 L1085.6,94.3 L1080.7,94.9 L1079.1,93.6 L1074.1,94.0 L1072.2,93.0 L1067.4,93.0 L1066.0,91.7 L1060.2,92.0 L1058.7,90.8 L1054.0,90.6Z" fill="#075707" stroke="#0c140c" stroke-width="2" stroke-linejoin="round"/>
<path d="M1087.0,54.5 L1092.5,49.1 L1097.0,45.5 L1102.5,50.0 L1108.9,52.7" fill="none" stroke="#0d1a0d" stroke-width="1.5" stroke-linejoin="round"/>
<path d="M1124.9,61.8 L1131.0,55.7 L1136.1,51.7 L1142.1,56.7 L1149.2,59.8" fill="none" stroke="#0d1a0d" stroke-width="1.5" stroke-linejoin="round"/>
<path d="M1063.5,69.3 L1068.3,64.5 L1072.4,61.3 L1077.2,65.3 L1082.9,67.7" fill="none" stroke="#0d1a0d" stroke-width="1.5" stroke-linejoin="round"/>
<path d="M1096.3,73.9 L1103.0,67.2 L1108.6,62.8 L1115.2,68.4 L1123.0,71.7" fill="none" stroke="#0d1a0d" stroke-width="1.5" stroke-linejoin="round"/>
<path d="M1095.0,90.4 L1101.7,83.8 L1107.3,79.3 L1113.9,84.9 L1121.7,88.2" fill="none" stroke="#0d1a0d" stroke-width="1.5" stroke-linejoin="round"/>
<path d="M1144.6,86.8 L1151.3,80.1 L1156.8,75.7 L1163.5,81.2 L1171.3,84.5" fill="none" stroke="#0d1a0d" stroke-width="1.5" stroke-linejoin="round"/>
<path d="M1483.7,111.4 L1485.0,107.4 L1483.1,103.9 L1484.4,100.0 L1482.6,96.3 L1486.1,93.2 L1485.4,89.8 L1489.3,87.0 L1489.8,84.3 L1494.8,82.5 L1495.6,79.6 L1500.3,79.0 L1501.8,77.1 L1506.7,76.7 L1508.0,74.6 L1513.4,75.6 L1514.8,74.2 L1519.4,74.9 L1517.6,70.0 L1518.9,67.7 L1520.3,64.1 L1524.1,63.3 L1525.6,59.4 L1530.5,58.7 L1533.5,53.8 L1538.4,54.7 L1542.3,51.7 L1546.8,54.2 L1551.0,52.5 L1555.4,55.5 L1560.3,55.1 L1562.1,60.6 L1565.1,62.8 L1567.9,63.7 L1572.4,61.6 L1574.4,63.3 L1578.1,64.4 L1579.6,68.1 L1583.0,70.0 L1584.1,73.7 L1586.9,76.6 L1586.2,81.3 L1591.9,81.1 L1594.8,81.9 L1598.1,84.3 L1597.2,87.8 L1601.2,90.4 L1601.6,93.1 L1606.2,95.5 L1607.0,98.0 L1608.3,101.3 L1605.8,104.4 L1611.1,106.0 L1613.2,107.0 L1612.9,110.1 L1608.8,112.4 L1609.0,115.7 L1604.0,115.5 L1602.1,116.3 L1597.3,116.0 L1595.9,117.1 L1591.0,116.6 L1589.3,117.8 L1584.3,117.1 L1582.8,118.5 L1577.5,117.3 L1575.8,118.7 L1570.7,117.3 L1568.7,118.9 L1564.1,117.5 L1561.8,119.2 L1557.4,117.3 L1554.6,119.5 L1550.9,117.7 L1547.5,120.3 L1544.4,118.6 L1540.6,120.3 L1537.9,119.1 L1533.4,121.3 L1531.5,119.6 L1526.5,121.9 L1525.0,119.6 L1519.9,120.7 L1518.2,119.1 L1513.1,119.9 L1511.9,118.2 L1507.0,118.6 L1505.6,117.3 L1500.4,117.5 L1498.7,116.2 L1493.4,116.3 L1492.0,115.0 L1486.9,114.9Z" fill="#075707" stroke="#0c140c" stroke-width="2" stroke-linejoin="round"/>
<path d="M1519.9,74.5 L1525.4,69.0 L1529.9,65.4 L1535.3,69.9 L1541.7,72.6" fill="none" stroke="#0d1a0d" stroke-width="1.5" stroke-linejoin="round"/>
<path d="M1557.7,82.4 L1563.8,76.4 L1568.8,72.3 L1574.8,77.4 L1581.9,80.4" fill="none" stroke="#0d1a0d" stroke-width="1.5" stroke-linejoin="round"/>
<path d="M1496.4,90.9 L1501.3,86.0 L1505.3,82.8 L1510.1,86.8 L1515.8,89.3" fill="none" stroke="#0d1a0d" stroke-width="1.5" stroke-linejoin="round"/>
<path d="M1529.2,95.8 L1535.8,89.1 L1541.4,84.7 L1548.0,90.2 L1555.8,93.6" fill="none" stroke="#0d1a0d" stroke-width="1.5" stroke-linejoin="round"/>
<path d="M1527.9,114.1 L1534.5,107.4 L1540.1,103.0 L1546.7,108.5 L1554.5,111.8" fill="none" stroke="#0d1a0d" stroke-width="1.5" stroke-linejoin="round"/>
<path d="M1577.3,110.0 L1583.9,103.3 L1589.5,98.9 L1596.1,104.5 L1603.9,107.8" fill="none" stroke="#0d1a0d" stroke-width="1.5" stroke-linejoin="round"/>
<path d="M1358.2,219.1 L1360.2,214.9 L1357.6,211.7 L1359.6,207.8 L1357.6,204.1 L1360.3,201.1 L1360.2,197.8 L1362.7,195.0 L1364.4,191.3 L1369.2,188.6 L1370.4,186.2 L1374.8,185.4 L1376.1,182.7 L1381.3,183.6 L1383.7,182.2 L1384.9,180.0 L1383.4,174.8 L1387.3,173.1 L1389.2,167.9 L1392.7,167.2 L1395.1,163.2 L1398.6,163.8 L1401.4,160.2 L1407.7,162.9 L1411.1,162.7 L1414.2,165.1 L1416.3,167.4 L1417.4,173.0 L1422.0,170.3 L1424.9,171.5 L1428.2,173.6 L1429.4,178.6 L1433.2,180.8 L1432.7,185.7 L1434.9,188.5 L1438.9,190.3 L1442.3,194.0 L1442.4,198.7 L1447.1,202.1 L1448.4,205.8 L1449.2,212.4 L1452.6,214.6 L1452.3,219.1 L1448.3,222.5 L1446.2,223.7 L1440.5,223.3 L1438.7,224.9 L1433.0,224.1 L1431.2,226.1 L1425.7,224.6 L1423.3,226.3 L1418.6,225.0 L1415.5,226.5 L1411.3,225.3 L1407.8,227.0 L1404.3,225.6 L1400.6,227.7 L1397.7,226.4 L1393.4,228.7 L1390.8,227.7 L1386.7,228.2 L1384.3,226.6 L1379.5,227.3 L1378.2,225.1 L1372.9,225.8 L1370.7,223.6 L1365.0,223.4 L1362.0,222.0Z" fill="#075707" stroke="#0c140c" stroke-width="2" stroke-linejoin="round"/>
<path d="M1385.1,181.6 L1389.1,177.7 L1392.4,175.1 L1396.3,178.4 L1400.9,180.3" fill="none" stroke="#0d1a0d" stroke-width="1.5" stroke-linejoin="round"/>
<path d="M1412.6,189.3 L1417.0,184.9 L1420.6,182.0 L1425.0,185.6 L1430.2,187.8" fill="none" stroke="#0d1a0d" stroke-width="1.5" stroke-linejoin="round"/>
<path d="M1368.0,197.8 L1371.5,194.3 L1374.5,192.0 L1378.0,194.9 L1382.1,196.7" fill="none" stroke="#0d1a0d" stroke-width="1.5" stroke-linejoin="round"/>
<path d="M1391.9,202.2 L1396.7,197.4 L1400.7,194.2 L1405.6,198.2 L1411.2,200.6" fill="none" stroke="#0d1a0d" stroke-width="1.5" stroke-linejoin="round"/>
<path d="M1390.9,220.1 L1395.7,215.3 L1399.8,212.1 L1404.6,216.1 L1410.2,218.5" fill="none" stroke="#0d1a0d" stroke-width="1.5" stroke-linejoin="round"/>
<path d="M1426.8,216.1 L1431.7,211.3 L1435.7,208.1 L1440.5,212.1 L1446.2,214.5" fill="none" stroke="#0d1a0d" stroke-width="1.5" stroke-linejoin="round"/>
<use href="#tree" x="1335" y="108.7"/>
<use href="#tree" x="1280" y="0"/>
<path d="M1085.0,226.0 L1086.8,222.0 L1084.6,218.8 L1086.5,215.2 L1084.3,211.7 L1087.7,208.8 L1086.7,205.6 L1089.8,202.9 L1091.7,199.3 L1096.6,196.6 L1098.9,194.6 L1103.4,193.6 L1105.5,191.3 L1111.3,192.2 L1113.8,190.6 L1114.9,188.3 L1113.5,183.7 L1117.6,181.5 L1120.0,176.8 L1124.1,176.1 L1126.7,171.9 L1130.7,172.4 L1134.0,169.7 L1137.7,171.9 L1141.2,170.0 L1144.9,173.0 L1149.0,172.9 L1150.4,178.4 L1153.1,179.7 L1156.6,181.0 L1161.7,179.1 L1162.7,183.1 L1166.0,184.1 L1166.7,188.0 L1170.2,189.4 L1169.4,194.1 L1172.1,196.8 L1174.2,197.8 L1179.3,197.5 L1179.6,202.2 L1182.6,206.2 L1184.2,209.8 L1189.8,213.3 L1186.6,219.3 L1191.5,220.8 L1192.8,221.7 L1192.4,226.1 L1188.0,229.4 L1185.9,230.4 L1180.6,230.1 L1178.7,231.3 L1173.4,230.8 L1171.2,232.0 L1166.3,231.5 L1164.0,232.7 L1159.1,231.7 L1156.7,233.3 L1151.6,231.4 L1149.0,233.4 L1144.6,231.6 L1141.3,233.4 L1138.0,232.0 L1134.3,234.8 L1131.7,232.8 L1127.7,234.7 L1125.3,233.7 L1120.8,235.7 L1118.2,233.8 L1113.2,234.2 L1110.8,232.6 L1105.6,232.9 L1103.0,231.6 L1098.1,231.6 L1096.1,230.2 L1090.7,230.1 L1089.2,228.7Z" fill="#075707" stroke="#0c140c" stroke-width="2" stroke-linejoin="round"/>
<path d="M1115.4,190.7 L1119.9,186.1 L1123.7,183.1 L1128.2,186.9 L1133.5,189.2" fill="none" stroke="#0d1a0d" stroke-width="1.5" stroke-linejoin="round"/>
<path d="M1146.8,198.1 L1151.8,193.1 L1156.0,189.7 L1161.0,193.9 L1166.9,196.4" fill="none" stroke="#0d1a0d" stroke-width="1.5" stroke-linejoin="round"/>
<path d="M1095.8,206.2 L1099.9,202.1 L1103.2,199.4 L1107.2,202.8 L1111.9,204.8" fill="none" stroke="#0d1a0d" stroke-width="1.5" stroke-linejoin="round"/>
<path d="M1123.1,210.6 L1128.6,205.1 L1133.2,201.4 L1138.8,206.0 L1145.2,208.7" fill="none" stroke="#0d1a0d" stroke-width="1.5" stroke-linejoin="round"/>
<path d="M1122.0,227.8 L1127.5,222.2 L1132.1,218.5 L1137.7,223.2 L1144.1,225.9" fill="none" stroke="#0d1a0d" stroke-width="1.5" stroke-linejoin="round"/>
<path d="M1163.1,223.9 L1168.6,218.4 L1173.2,214.7 L1178.8,219.3 L1185.2,222.1" fill="none" stroke="#0d1a0d" stroke-width="1.5" stroke-linejoin="round"/>
<use href="#tree" x="1094" y="10.2"/>
<use href="#tree" x="919" y="77.3"/>
<path d="M1074.1,323.0 L1076.3,318.8 L1074.3,315.4 L1075.9,311.5 L1073.5,307.9 L1077.1,304.8 L1076.1,301.4 L1079.5,298.6 L1080.2,296.0 L1084.5,294.2 L1085.2,291.3 L1090.7,290.5 L1092.4,288.0 L1097.8,287.3 L1100.7,286.0 L1106.8,287.1 L1105.0,282.0 L1106.1,279.7 L1106.8,275.6 L1110.2,274.8 L1111.8,271.3 L1116.0,270.2 L1119.0,266.4 L1123.1,266.5 L1126.6,264.1 L1130.5,265.7 L1134.3,264.3 L1138.2,267.1 L1142.6,266.5 L1144.1,272.5 L1146.7,274.8 L1150.5,275.8 L1156.4,273.1 L1157.4,277.4 L1160.4,279.1 L1161.7,282.7 L1164.9,284.5 L1164.1,289.5 L1167.3,292.1 L1169.3,293.2 L1174.4,293.1 L1175.0,297.9 L1178.4,302.0 L1178.8,304.7 L1183.5,307.1 L1183.5,309.5 L1184.6,312.8 L1182.8,315.9 L1187.8,317.5 L1189.6,318.5 L1189.6,321.6 L1185.7,323.8 L1185.2,327.0 L1180.2,326.7 L1179.1,327.9 L1173.9,327.4 L1172.1,328.5 L1167.5,328.1 L1165.9,329.5 L1160.5,328.5 L1158.9,329.9 L1154.3,329.0 L1151.8,330.0 L1147.5,329.0 L1145.0,330.5 L1140.8,329.1 L1137.8,330.5 L1134.2,329.1 L1130.7,331.1 L1127.5,329.6 L1123.3,332.3 L1120.9,330.4 L1116.4,332.4 L1113.7,331.8 L1109.5,332.2 L1107.0,330.8 L1102.5,331.3 L1100.5,329.7 L1095.5,330.2 L1094.1,328.6 L1088.6,328.7 L1086.6,327.2 L1081.2,327.1 L1079.1,325.8Z" fill="#075707" stroke="#0c140c" stroke-width="2" stroke-linejoin="round"/>
<path d="M1106.8,285.8 L1111.6,280.9 L1115.6,277.7 L1120.4,281.8 L1126.0,284.2" fill="none" stroke="#0d1a0d" stroke-width="1.5" stroke-linejoin="round"/>
<path d="M1140.2,293.6 L1145.6,288.2 L1150.0,284.7 L1155.4,289.1 L1161.6,291.8" fill="none" stroke="#0d1a0d" stroke-width="1.5" stroke-linejoin="round"/>
<path d="M1086.0,302.1 L1090.3,297.8 L1093.8,294.9 L1098.1,298.5 L1103.1,300.6" fill="none" stroke="#0d1a0d" stroke-width="1.5" stroke-linejoin="round"/>
<path d="M1115.0,306.8 L1120.9,300.9 L1125.8,296.9 L1131.7,301.9 L1138.5,304.8" fill="none" stroke="#0d1a0d" stroke-width="1.5" stroke-linejoin="round"/>
<path d="M1113.8,324.8 L1119.7,319.0 L1124.6,315.0 L1130.5,319.9 L1137.4,322.9" fill="none" stroke="#0d1a0d" stroke-width="1.5" stroke-linejoin="round"/>
<path d="M1157.5,320.8 L1163.4,314.9 L1168.3,311.0 L1174.2,315.9 L1181.1,318.9" fill="none" stroke="#0d1a0d" stroke-width="1.5" stroke-linejoin="round"/>
<path d="M799.1,336.0 L801.3,331.9 L799.3,328.6 L801.1,324.8 L798.5,321.3 L801.8,318.3 L801.4,315.0 L805.0,312.2 L806.0,309.7 L810.7,307.9 L811.8,305.2 L816.7,304.7 L818.3,303.0 L823.2,302.6 L824.0,300.3 L829.0,301.0 L830.6,299.7 L835.6,300.6 L833.9,295.9 L835.2,293.8 L836.1,289.9 L840.2,289.3 L841.5,285.3 L846.5,284.6 L849.7,280.4 L854.6,281.1 L858.5,278.0 L863.0,280.5 L867.3,278.7 L871.7,281.9 L876.7,281.1 L878.5,286.4 L881.6,288.5 L884.2,289.9 L888.7,287.9 L890.8,289.3 L894.9,290.1 L895.7,294.3 L899.6,295.8 L900.9,299.3 L903.3,302.3 L902.7,306.8 L908.3,306.6 L911.2,307.4 L914.7,309.7 L914.1,313.0 L917.7,315.6 L918.2,318.2 L922.8,320.5 L923.3,322.9 L923.8,329.3 L926.3,330.4 L931.9,332.0 L928.1,334.3 L927.3,337.2 L923.2,339.3 L922.0,340.3 L917.0,340.0 L915.1,340.8 L910.1,340.4 L908.9,341.6 L903.5,340.9 L902.0,342.1 L897.7,341.7 L895.8,342.9 L890.8,341.8 L888.5,342.8 L884.1,342.0 L881.6,343.2 L877.2,342.0 L874.5,343.4 L870.6,342.2 L867.3,343.5 L863.9,341.9 L860.3,344.2 L857.3,343.0 L853.3,344.7 L850.7,343.8 L846.1,345.7 L844.0,344.5 L839.3,345.4 L837.5,343.7 L832.9,344.3 L831.2,342.8 L826.4,343.2 L824.7,342.0 L819.6,342.4 L818.0,341.0 L812.6,341.2 L811.1,340.0 L806.2,339.8 L804.2,338.8Z" fill="#075707" stroke="#0c140c" stroke-width="2" stroke-linejoin="round"/>
<path d="M836.1,300.4 L841.5,294.9 L846.1,291.3 L851.5,295.8 L857.9,298.6" fill="none" stroke="#0d1a0d" stroke-width="1.5" stroke-linejoin="round"/>
<path d="M874.0,308.1 L880.1,302.0 L885.1,297.9 L891.2,303.0 L898.3,306.0" fill="none" stroke="#0d1a0d" stroke-width="1.5" stroke-linejoin="round"/>
<path d="M812.5,316.2 L817.3,311.3 L821.4,308.1 L826.2,312.1 L831.9,314.6" fill="none" stroke="#0d1a0d" stroke-width="1.5" stroke-linejoin="round"/>
<path d="M845.4,321.0 L852.0,314.3 L857.6,309.9 L864.3,315.4 L872.1,318.8" fill="none" stroke="#0d1a0d" stroke-width="1.5" stroke-linejoin="round"/>
<path d="M844.1,338.6 L850.7,331.9 L856.3,327.5 L863.0,333.0 L870.8,336.4" fill="none" stroke="#0d1a0d" stroke-width="1.5" stroke-linejoin="round"/>
<path d="M893.7,334.7 L900.3,328.0 L905.9,323.6 L912.6,329.1 L920.4,332.5" fill="none" stroke="#0d1a0d" stroke-width="1.5" stroke-linejoin="round"/>
<use href="#tree" x="1213.5" y="167.3"/>
<use href="#tree" x="1041" y="171.4"/>
<g stroke="#000" stroke-width="8.5">
<line x1="170" y1="487" x2="213" y2="487"/>
<line x1="170" y1="553.5" x2="213" y2="553.5"/>
<line x1="170" y1="638" x2="213" y2="638"/>
<line x1="170" y1="714" x2="213" y2="714"/>
<line x1="170" y1="797.5" x2="213" y2="797.5"/>
<line x1="170" y1="886.5" x2="213" y2="886.5"/>
<line x1="170" y1="966.7" x2="213" y2="966.7"/>
<line x1="170" y1="1053.4" x2="213" y2="1053.4"/>
<line x1="170" y1="1133.7" x2="213" y2="1133.7"/>
<line x1="165" y1="1337" x2="214" y2="1337"/>
<line x1="165" y1="1424.9" x2="214" y2="1424.9"/>
<line x1="165" y1="1530.5" x2="215" y2="1530.5"/>
<line x1="165" y1="1634.3" x2="214" y2="1634.3"/>
<line x1="165" y1="1739" x2="219" y2="1739"/>
<line x1="165" y1="1851" x2="214" y2="1851"/>
<line x1="170" y1="1266" x2="213" y2="1266"/>
<line x1="165" y1="1971.3" x2="199" y2="1971.3"/>
<line x1="1741" y1="717.6" x2="1772" y2="717.6"/>
<line x1="1741" y1="916" x2="1772" y2="916"/>
<line x1="1741" y1="1626.5" x2="1772" y2="1626.5" stroke-width="6"/>
</g>
<g stroke="#8c8c8c" stroke-width="7.5">
<line x1="125" y1="418" x2="166" y2="418"/>
<line x1="125" y1="494" x2="166" y2="494"/>
<line x1="125" y1="781.4" x2="166" y2="781.4"/>
<line x1="125" y1="1093.3" x2="166" y2="1093.3"/>
<line x1="125" y1="1266" x2="166" y2="1266"/>
</g>
<line x1="690" y1="349.6" x2="690" y2="516.7" stroke="#000" stroke-width="6.2"/><polygon points="690,321.3 708.2,350.6 671.8,350.6" fill="#000"/>
<line x1="723" y1="321" x2="723" y2="488.40000000000003" stroke="#000" stroke-width="6.2"/><polygon points="723,516.7 741.2,487.40000000000003 704.8,487.40000000000003" fill="#000"/>
<line x1="1520.5" y1="1012.8" x2="1520.5" y2="1180.7" stroke="#000" stroke-width="6.6"/><polygon points="1520.5,984 1539.5,1013.8 1501.5,1013.8" fill="#000"/>
<line x1="1554" y1="964.2" x2="1554" y2="1130.5" stroke="#000" stroke-width="6.6"/><polygon points="1554,1159.3 1572.2,1129.5 1535.8,1129.5" fill="#000"/>
<text transform="translate(30.54,215.83) scale(0.8187,0.7222)" font-size="100" font-weight="normal"><tspan fill="#000000">Depth</tspan></text>
<text transform="translate(34.68,298.05) scale(0.7038,0.8167)" font-size="100" font-weight="normal"><tspan fill="#000000">(</tspan></text>
<text transform="translate(59.63,296.80) scale(0.7851,0.7000)" font-size="100" font-weight="normal"><tspan fill="#000000">m</tspan></text>
<text transform="translate(122.67,298.05) scale(0.6769,0.8167)" font-size="100" font-weight="normal"><tspan fill="#000000">)</tspan></text>
<text transform="translate(-0.63,425.76) scale(0.6821,0.6676)" font-size="100" font-weight="normal"><tspan fill="#878787">0.06</tspan></text>
<text transform="translate(-0.66,509.28) scale(0.6904,0.6603)" font-size="100" font-weight="normal"><tspan fill="#878787">0.32</tspan></text>
<text transform="translate(1.33,797.83) scale(0.6851,0.6687)" font-size="100" font-weight="normal"><tspan fill="#878787">1.32</tspan></text>
<text transform="translate(1.84,1108.33) scale(0.6781,0.6716)" font-size="100" font-weight="normal"><tspan fill="#878787">4.13</tspan></text>
<text transform="translate(-0.93,1281.08) scale(0.6756,0.6603)" font-size="100" font-weight="normal"><tspan fill="#dc0000">9.83</tspan></text>
<text transform="translate(291.75,437.68) scale(0.6887,0.6618)" font-size="100" font-weight="normal"><tspan fill="#000000">0.06</tspan></text>
<text transform="translate(289.66,505.04) scale(0.6862,0.6779)" font-size="100" font-weight="normal"><tspan fill="#000000">0.30</tspan></text>
<text transform="translate(289.68,573.68) scale(0.6800,0.6618)" font-size="100" font-weight="normal"><tspan fill="#000000">0.54</tspan></text>
<text transform="translate(289.66,657.01) scale(0.6862,0.6926)" font-size="100" font-weight="normal"><tspan fill="#000000">0.78</tspan></text>
<text transform="translate(290.50,735.21) scale(0.6773,0.6926)" font-size="100" font-weight="normal"><tspan fill="#000000">1.06</tspan></text>
<text transform="translate(291.61,817.68) scale(0.6767,0.6618)" font-size="100" font-weight="normal"><tspan fill="#000000">1.36</tspan></text>
<text transform="translate(291.48,906.51) scale(0.6913,0.6456)" font-size="100" font-weight="normal"><tspan fill="#000000">1.82</tspan></text>
<text transform="translate(292.92,989.98) scale(0.6690,0.6618)" font-size="100" font-weight="normal"><tspan fill="#000000">2.46</tspan></text>
<text transform="translate(292.18,1073.45) scale(0.6831,0.6765)" font-size="100" font-weight="normal"><tspan fill="#000000">3.60</tspan></text>
<text transform="translate(291.55,1158.60) scale(0.6750,0.6955)" font-size="100" font-weight="normal"><tspan fill="#000000">5.74</tspan></text>
<text transform="translate(294.58,1254.34) scale(0.6750,0.6779)" font-size="100" font-weight="normal"><tspan fill="#dc0000">9.98</tspan></text>
<text transform="translate(262.66,1357.18) scale(0.6821,0.6618)" font-size="100" font-weight="normal"><tspan fill="#000000">18.68</tspan></text>
<text transform="translate(264.33,1444.98) scale(0.6749,0.6618)" font-size="100" font-weight="normal"><tspan fill="#000000">36.64</tspan></text>
<text transform="translate(264.36,1546.37) scale(0.6907,0.7132)" font-size="100" font-weight="normal"><tspan fill="#000000">74.20</tspan></text>
<text transform="translate(233.89,1652.67) scale(0.6794,0.6662)" font-size="100" font-weight="normal"><tspan fill="#000000">152.78</tspan></text>
<text transform="translate(231.88,1764.66) scale(0.6831,0.6691)" font-size="100" font-weight="normal"><tspan fill="#000000">317.78</tspan></text>
<text transform="translate(230.29,1876.42) scale(0.6770,0.6882)" font-size="100" font-weight="normal"><tspan fill="#000000">664.04</tspan></text>
<text transform="translate(197.72,1971.96) scale(0.6756,0.6691)" font-size="100" font-weight="normal"><tspan fill="#dc0000">1391.48</tspan></text>
<text transform="translate(571.04,583.98) scale(0.7873,0.7535)" font-size="100" font-weight="normal"><tspan fill="#000000">Energy</tspan></text>
<text transform="translate(634.20,652.72) scale(0.7697,0.7825)" font-size="100" font-weight="normal"><tspan fill="#000000">water</tspan></text>
<text transform="translate(1074.15,796.33) scale(0.7507,0.7352)" font-size="100" font-weight="normal"><tspan fill="#000000">Soil</tspan></text>
<text transform="translate(893.95,1094.93) scale(0.7507,0.7352)" font-size="100" font-weight="normal"><tspan fill="#000000">Soil</tspan></text>
<text transform="translate(1070.95,1096.93) scale(0.7619,0.7838)" font-size="100" font-weight="normal"><tspan fill="#000000">0</tspan></text>
<text transform="translate(1108.87,1065.46) scale(0.6333,0.5437)" font-size="100" font-weight="normal"><tspan fill="#000000">o</tspan></text>
<text transform="translate(1141.18,1096.90) scale(0.8053,0.7985)" font-size="100" font-weight="normal"><tspan fill="#000000">C</tspan></text>
<text transform="translate(927.49,1374.78) scale(0.7714,0.7214)" font-size="100" font-weight="normal"><tspan fill="#000000">Bedrock</tspan></text>
<text transform="translate(640.62,1719.50) scale(1.6378,1.5031)" font-size="100" font-weight="bold"><tspan fill="#282b33">REF</tspan></text>
<text transform="translate(1417.62,1257.64) scale(0.7923,0.8267)" font-size="100" font-weight="normal"><tspan fill="#000000">Energy</tspan></text>
<text transform="translate(1775.70,743.87) scale(0.7679,0.7300)" font-size="100" font-weight="normal"><tspan fill="#000000">Bedrock</tspan></text>
<text transform="translate(1776.46,811.30) scale(0.7701,0.7000)" font-size="100" font-weight="normal"><tspan fill="#000000">limit</tspan></text>
<text transform="translate(1780.72,930.31) scale(0.7598,0.7279)" font-size="100" font-weight="normal"><tspan fill="#141414">Layer</tspan></text>
<text transform="translate(1778.63,1007.38) scale(0.7950,0.7242)" font-size="100" font-weight="normal"><tspan fill="#878787">5</tspan></text>
<text transform="translate(1852.46,1008.00) scale(0.7716,0.7227)" font-size="100" font-weight="normal"><tspan fill="#141414">11</tspan></text>
<text transform="translate(1784.63,1102.66) scale(0.6923,0.8256)" font-size="100" font-weight="normal"><tspan fill="#000000">(</tspan></text>
<text transform="translate(1807.89,1102.05) scale(0.7521,0.7486)" font-size="100" font-weight="normal"><tspan fill="#dc0000">shallow</tspan></text>
<text transform="translate(2045.22,1102.66) scale(0.6923,0.8256)" font-size="100" font-weight="normal"><tspan fill="#000000">)</tspan></text>
<text transform="translate(1783.42,1637.25) scale(0.7611,0.7500)" font-size="100" font-weight="normal"><tspan fill="#000000">Layer</tspan></text>
<text transform="translate(1782.22,1717.14) scale(0.7529,0.7294)" font-size="100" font-weight="normal"><tspan fill="#000000">18</tspan></text>
<text transform="translate(1787.08,1812.43) scale(0.7308,0.8222)" font-size="100" font-weight="normal"><tspan fill="#000000">(</tspan></text>
<text transform="translate(1811.95,1810.19) scale(0.7846,0.7289)" font-size="100" font-weight="normal"><tspan fill="#dc0000">deep</tspan></text>
<text transform="translate(1960.20,1812.43) scale(0.7346,0.8222)" font-size="100" font-weight="normal"><tspan fill="#000000">)</tspan></text>
<rect x="1111" y="1069.5" width="27" height="3.2" fill="#000"/>
<path d="M575.5,634.5 H624 M599.7,611.5 V658.5" stroke="#000" stroke-width="2.6" fill="none"/>
<line x1="1849.5" y1="955" x2="1822" y2="1026.5" stroke="#141414" stroke-width="2.4" stroke-linecap="round"/>
<polyline points="1065,1057.5 1021.5,1076.7 1065,1096" fill="none" stroke="#000" stroke-width="2.6" stroke-linejoin="miter"/>
<ellipse cx="2027.5" cy="80.2" rx="0.9" ry="2.6" fill="#bbb"/><ellipse cx="2027.5" cy="97.2" rx="1.1" ry="2.8" fill="#555"/>
</svg></body></html>
